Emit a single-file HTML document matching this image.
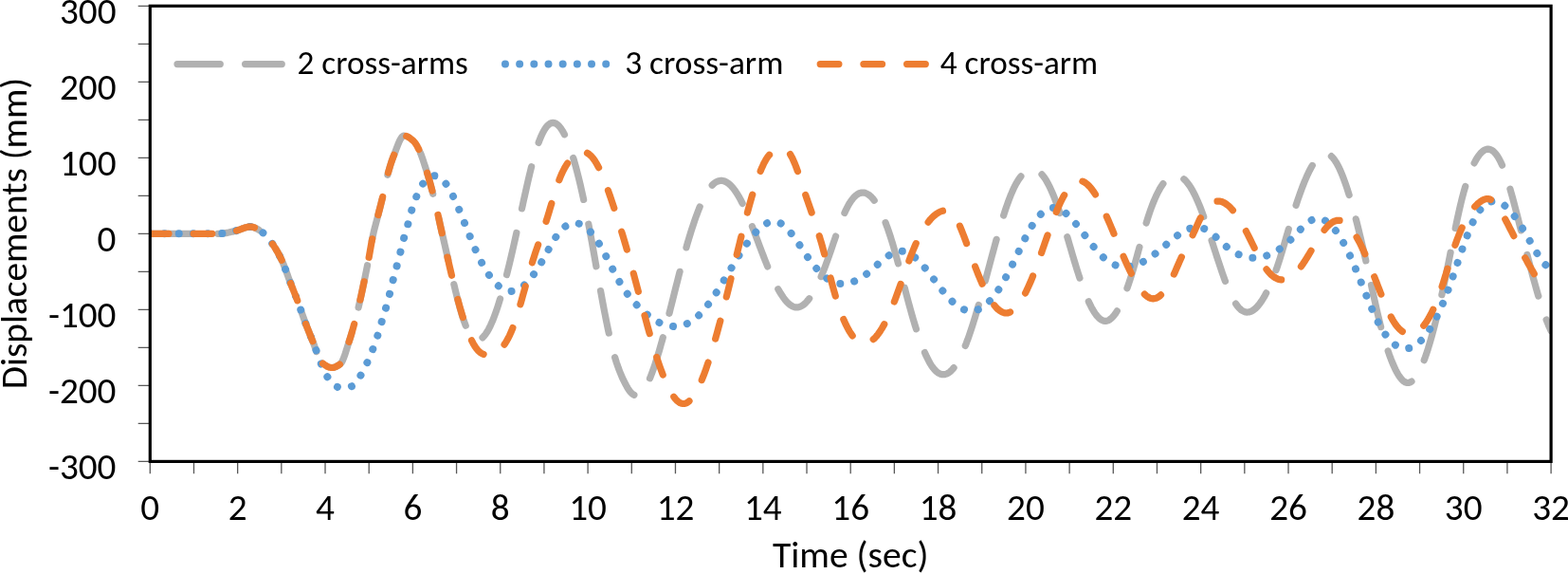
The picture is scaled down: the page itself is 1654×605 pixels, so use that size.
<!DOCTYPE html>
<html><head><meta charset="utf-8"><title>Displacements chart</title>
<style>
html,body{margin:0;padding:0;background:#fff;}
svg{display:block;}
text{font-family:Carlito, 'Liberation Sans', sans-serif;fill:#000;}
</style></head><body>
<svg width="1654" height="605" viewBox="0 0 1654 605">
<rect width="1654" height="605" fill="#fff"/>
<path d="M145.7 6.30H157 M145.7 46.31H157 M145.7 86.32H157 M145.7 126.32H157 M145.7 166.33H157 M145.7 206.34H157 M145.7 246.35H157 M145.7 286.36H157 M145.7 326.37H157 M145.7 366.38H157 M145.7 406.38H157 M145.7 446.39H157 M145.7 486.40H157 M158.30 488V499.3 M204.48 488V499.3 M250.66 488V499.3 M296.84 488V499.3 M343.02 488V499.3 M389.21 488V499.3 M435.39 488V499.3 M481.57 488V499.3 M527.75 488V499.3 M573.93 488V499.3 M620.11 488V499.3 M666.29 488V499.3 M712.47 488V499.3 M758.66 488V499.3 M804.84 488V499.3 M851.02 488V499.3 M897.20 488V499.3 M943.38 488V499.3 M989.56 488V499.3 M1035.74 488V499.3 M1081.92 488V499.3 M1128.11 488V499.3 M1174.29 488V499.3 M1220.47 488V499.3 M1266.65 488V499.3 M1312.83 488V499.3 M1359.01 488V499.3 M1405.19 488V499.3 M1451.38 488V499.3 M1497.56 488V499.3 M1543.74 488V499.3 M1589.92 488V499.3 M1636.10 488V499.3" stroke="#595959" stroke-width="1.3" fill="none"/>
<g font-size="39.2">
<text x="122.5" y="25.0" text-anchor="end" textLength="59.59" lengthAdjust="spacingAndGlyphs">300</text><text x="122.5" y="105.0" text-anchor="end" textLength="59.59" lengthAdjust="spacingAndGlyphs">200</text><text x="122.5" y="185.0" text-anchor="end" textLength="59.59" lengthAdjust="spacingAndGlyphs">100</text><text x="122.5" y="265.0" text-anchor="end" textLength="19.88" lengthAdjust="spacingAndGlyphs">0</text><text x="122.5" y="345.1" text-anchor="end" textLength="71.59" lengthAdjust="spacingAndGlyphs">-100</text><text x="122.5" y="425.1" text-anchor="end" textLength="71.59" lengthAdjust="spacingAndGlyphs">-200</text><text x="122.5" y="505.1" text-anchor="end" textLength="71.59" lengthAdjust="spacingAndGlyphs">-300</text>
<text x="158.3" y="547.8" text-anchor="middle" textLength="19.88" lengthAdjust="spacingAndGlyphs">0</text><text x="250.7" y="547.8" text-anchor="middle" textLength="19.88" lengthAdjust="spacingAndGlyphs">2</text><text x="343.0" y="547.8" text-anchor="middle" textLength="19.88" lengthAdjust="spacingAndGlyphs">4</text><text x="435.4" y="547.8" text-anchor="middle" textLength="19.88" lengthAdjust="spacingAndGlyphs">6</text><text x="527.8" y="547.8" text-anchor="middle" textLength="19.88" lengthAdjust="spacingAndGlyphs">8</text><text x="620.1" y="547.8" text-anchor="middle" textLength="39.73" lengthAdjust="spacingAndGlyphs">10</text><text x="712.5" y="547.8" text-anchor="middle" textLength="39.73" lengthAdjust="spacingAndGlyphs">12</text><text x="804.8" y="547.8" text-anchor="middle" textLength="39.73" lengthAdjust="spacingAndGlyphs">14</text><text x="897.2" y="547.8" text-anchor="middle" textLength="39.73" lengthAdjust="spacingAndGlyphs">16</text><text x="989.6" y="547.8" text-anchor="middle" textLength="39.73" lengthAdjust="spacingAndGlyphs">18</text><text x="1081.9" y="547.8" text-anchor="middle" textLength="39.73" lengthAdjust="spacingAndGlyphs">20</text><text x="1174.3" y="547.8" text-anchor="middle" textLength="39.73" lengthAdjust="spacingAndGlyphs">22</text><text x="1266.6" y="547.8" text-anchor="middle" textLength="39.73" lengthAdjust="spacingAndGlyphs">24</text><text x="1359.0" y="547.8" text-anchor="middle" textLength="39.73" lengthAdjust="spacingAndGlyphs">26</text><text x="1451.4" y="547.8" text-anchor="middle" textLength="39.73" lengthAdjust="spacingAndGlyphs">28</text><text x="1543.7" y="547.8" text-anchor="middle" textLength="39.73" lengthAdjust="spacingAndGlyphs">30</text><text x="1636.1" y="547.8" text-anchor="middle" textLength="39.73" lengthAdjust="spacingAndGlyphs">32</text>
<text x="897.2" y="598.4" text-anchor="middle" textLength="164.6" lengthAdjust="spacingAndGlyphs">Time (sec)</text>
<text transform="translate(28.0 246) rotate(-90)" text-anchor="middle" textLength="328.6" lengthAdjust="spacingAndGlyphs">Displacements (mm)</text>
</g>
<defs><clipPath id="pc"><rect x="158.3" y="0" width="1477.8" height="605"/></clipPath></defs>
<g fill="none" stroke-linecap="round" stroke-linejoin="round">
<g clip-path="url(#pc)">
<path d="M158.3 246.3 L159.3 246.3 L160.3 246.3 L161.3 246.3 L162.3 246.3 L163.3 246.3 L164.3 246.3 L165.3 246.3 L166.3 246.3 L167.3 246.3 L168.3 246.3 L169.3 246.3 L170.3 246.3 L171.3 246.3 L172.3 246.3 L173.3 246.3 L174.3 246.3 L175.3 246.3 L176.3 246.3 L177.3 246.3 L178.3 246.3 L179.3 246.3 L180.3 246.3 L181.3 246.3 L182.3 246.3 L183.3 246.3 L184.3 246.3 L185.3 246.3 L186.3 246.3 L187.3 246.3 L188.3 246.3 L189.3 246.3 L190.3 246.3 L191.3 246.3 L192.3 246.3 L193.3 246.3 L194.3 246.3 L195.3 246.3 L196.3 246.3 L197.3 246.3 L198.3 246.3 L199.3 246.3 L200.3 246.3 L201.3 246.3 L202.3 246.3 L203.3 246.3 L204.3 246.3 L205.3 246.3 L206.3 246.3 L207.3 246.3 L208.3 246.3 L209.3 246.3 L210.3 246.3 L211.3 246.3 L212.3 246.3 L213.3 246.3 L214.3 246.3 L215.3 246.3 L216.3 246.3 L217.3 246.3 L218.3 246.3 L219.3 246.3 L220.3 246.3 L221.3 246.3 L222.3 246.3 L223.3 246.3 L224.3 246.3 L225.3 246.3 L226.3 246.3 L227.3 246.3 L228.3 246.3 L229.3 246.3 L230.3 246.3 L231.3 246.3 L232.3 246.3 L233.3 246.2 L234.3 246.1 L235.3 246.0 L236.3 245.9 L237.3 245.7 L238.3 245.6 L239.3 245.4 L240.3 245.2 L241.3 245.0 L242.3 244.8 L243.3 244.5 L244.3 244.3 L245.3 244.1 L246.3 243.9 L247.3 243.6 L248.3 243.4 L249.3 243.2 L250.3 242.9 L251.3 242.6 L252.3 242.2 L253.3 241.9 L254.3 241.5 L255.3 241.1 L256.3 240.7 L257.3 240.4 L258.3 240.0 L259.3 239.7 L260.3 239.5 L261.3 239.3 L262.3 239.1 L263.3 239.0 L264.3 239.0 L265.3 239.1 L266.3 239.3 L267.3 239.5 L268.3 239.9 L269.3 240.3 L270.3 240.8 L271.3 241.3 L272.3 241.9 L273.3 242.5 L274.3 243.2 L275.3 243.9 L276.3 244.6 L277.3 245.3 L278.3 246.1 L279.3 246.9 L280.3 247.8 L281.3 248.8 L282.3 250.0 L283.3 251.2 L284.3 252.6 L285.3 254.0 L286.3 255.4 L287.3 256.9 L288.3 258.3 L289.3 259.9 L290.3 261.4 L291.3 263.1 L292.3 264.8 L293.3 266.6 L294.3 268.5 L295.3 270.4 L296.3 272.4 L297.3 274.5 L298.3 276.7 L299.3 279.1 L300.3 281.7 L301.3 284.4 L302.3 287.1 L303.3 289.8 L304.3 292.6 L305.3 295.3 L306.3 297.9 L307.3 300.5 L308.3 303.0 L309.3 305.5 L310.3 308.0 L311.3 310.5 L312.3 313.0 L313.3 315.6 L314.3 318.3 L315.3 321.0 L316.3 323.8 L317.3 326.7 L318.3 329.6 L319.3 332.4 L320.3 335.2 L321.3 338.0 L322.3 340.7 L323.3 343.4 L324.3 345.9 L325.3 348.4 L326.3 350.9 L327.3 353.4 L328.3 355.8 L329.3 358.3 L330.3 360.8 L331.3 363.4 L332.3 366.3 L333.3 369.2 L334.3 372.1 L335.3 374.9 L336.3 377.3 L337.3 379.4 L338.3 381.0 L339.3 382.1 L340.3 382.9 L341.3 383.7 L342.3 384.4 L343.3 385.1 L344.3 385.7 L345.3 386.3 L346.3 386.7 L347.3 387.1 L348.3 387.3 L349.3 387.5 L350.3 387.5 L351.3 387.4 L352.3 387.2 L353.3 386.9 L354.3 386.5 L355.3 386.0 L356.3 385.4 L357.3 384.8 L358.3 384.1 L359.3 383.3 L360.3 382.1 L361.3 380.2 L362.3 377.9 L363.3 375.3 L364.3 372.3 L365.3 369.2 L366.3 366.0 L367.3 362.8 L368.3 359.7 L369.3 356.6 L370.3 353.4 L371.3 350.0 L372.3 346.5 L373.3 342.8 L374.3 339.1 L375.3 335.2 L376.3 331.3 L377.3 327.3 L378.3 323.2 L379.3 318.9 L380.3 314.5 L381.3 310.0 L382.3 305.3 L383.3 300.6 L384.3 295.8 L385.3 290.9 L386.3 285.9 L387.3 280.9 L388.3 275.9 L389.3 270.6 L390.3 264.9 L391.3 259.2 L392.3 253.7 L393.3 248.7 L394.3 244.2 L395.3 240.2 L396.3 236.4 L397.3 232.6 L398.3 228.9 L399.3 224.9 L400.3 221.0 L401.3 217.1 L402.3 213.2 L403.3 209.1 L404.3 204.8 L405.3 200.1 L406.3 195.4 L407.3 190.7 L408.3 186.5 L409.3 182.7 L410.3 179.1 L411.3 175.7 L412.3 172.5 L413.3 169.5 L414.3 166.7 L415.3 164.2 L416.3 161.6 L417.3 158.9 L418.3 156.3 L419.3 153.7 L420.3 151.2 L421.3 148.9 L422.3 146.9 L423.3 145.3 L424.3 144.0 L425.3 143.2 L426.3 143.0 L427.3 143.1 L428.3 143.3 L429.3 143.7 L430.3 144.2 L431.3 144.8 L432.3 145.5 L433.3 146.3 L434.3 147.1 L435.3 147.9 L436.3 148.8 L437.3 149.9 L438.3 151.2 L439.3 152.8 L440.3 154.6 L441.3 156.5 L442.3 158.5 L443.3 160.7 L444.3 163.2 L445.3 166.0 L446.3 168.9 L447.3 172.0 L448.3 175.0 L449.3 178.1 L450.3 181.3 L451.3 184.6 L452.3 188.0 L453.3 191.5 L454.3 195.1 L455.3 198.9 L456.3 202.7 L457.3 206.7 L458.3 210.7 L459.3 214.9 L460.3 219.1 L461.3 223.4 L462.3 227.8 L463.3 232.2 L464.3 236.7 L465.3 241.2 L466.3 245.6 L467.3 250.0 L468.3 254.4 L469.3 258.7 L470.3 263.1 L471.3 267.5 L472.3 271.9 L473.3 276.2 L474.3 280.6 L475.3 284.9 L476.3 289.1 L477.3 293.4 L478.3 297.6 L479.3 301.7 L480.3 305.8 L481.3 309.8 L482.3 313.8 L483.3 317.7 L484.3 321.4 L485.3 325.1 L486.3 328.6 L487.3 331.9 L488.3 335.1 L489.3 338.1 L490.3 340.8 L491.3 343.4 L492.3 345.7 L493.3 347.9 L494.3 349.8 L495.3 351.5 L496.3 353.0 L497.3 354.3 L498.3 355.4 L499.3 356.3 L500.3 357.1 L501.3 357.6 L502.3 358.0 L503.3 358.1 L504.3 358.1 L505.3 358.0 L506.3 357.6 L507.3 357.1 L508.3 356.4 L509.3 355.6 L510.3 354.5 L511.3 353.4 L512.3 352.1 L513.3 350.6 L514.3 349.0 L515.3 347.2 L516.3 345.3 L517.3 343.3 L518.3 341.1 L519.3 338.8 L520.3 336.3 L521.3 333.7 L522.3 331.0 L523.3 328.2 L524.3 325.3 L525.3 322.3 L526.3 319.1 L527.3 315.9 L528.3 312.5 L529.3 309.0 L530.3 305.5 L531.3 301.8 L532.3 298.1 L533.3 294.3 L534.3 290.4 L535.3 286.4 L536.3 282.4 L537.3 278.3 L538.3 274.1 L539.3 269.9 L540.3 265.6 L541.3 261.2 L542.3 256.8 L543.3 252.4 L544.3 247.9 L545.3 243.4 L546.3 238.9 L547.3 234.4 L548.3 229.8 L549.3 225.3 L550.3 220.7 L551.3 216.2 L552.3 211.6 L553.3 207.1 L554.3 202.6 L555.3 198.1 L556.3 193.7 L557.3 189.4 L558.3 185.1 L559.3 181.0 L560.3 176.9 L561.3 173.0 L562.3 169.3 L563.3 165.7 L564.3 162.2 L565.3 158.9 L566.3 155.8 L567.3 152.8 L568.3 149.9 L569.3 147.3 L570.3 144.8 L571.3 142.5 L572.3 140.4 L573.3 138.5 L574.3 136.7 L575.3 135.2 L576.3 133.8 L577.3 132.6 L578.3 131.7 L579.3 130.9 L580.3 130.2 L581.3 129.8 L582.3 129.5 L583.3 129.4 L584.3 129.5 L585.3 129.8 L586.3 130.2 L587.3 130.8 L588.3 131.6 L589.3 132.5 L590.3 133.6 L591.3 134.9 L592.3 136.3 L593.3 137.9 L594.3 139.6 L595.3 141.5 L596.3 143.5 L597.3 145.7 L598.3 148.1 L599.3 150.5 L600.3 153.2 L601.3 155.9 L602.3 158.9 L603.3 161.9 L604.3 165.1 L605.3 168.4 L606.3 171.9 L607.3 175.5 L608.3 179.2 L609.3 183.1 L610.3 187.1 L611.3 191.2 L612.3 195.4 L613.3 199.7 L614.3 204.2 L615.3 208.8 L616.3 213.5 L617.3 218.3 L618.3 223.3 L619.3 228.3 L620.3 233.5 L621.3 238.7 L622.3 244.0 L623.3 249.5 L624.3 254.9 L625.3 260.5 L626.3 266.0 L627.3 271.7 L628.3 277.3 L629.3 282.9 L630.3 288.5 L631.3 294.1 L632.3 299.7 L633.3 305.3 L634.3 310.7 L635.3 316.2 L636.3 321.5 L637.3 326.8 L638.3 331.9 L639.3 337.0 L640.3 341.9 L641.3 346.7 L642.3 351.4 L643.3 355.9 L644.3 360.2 L645.3 364.3 L646.3 368.3 L647.3 372.0 L648.3 375.6 L649.3 378.9 L650.3 382.1 L651.3 385.0 L652.3 387.9 L653.3 390.5 L654.3 393.0 L655.3 395.4 L656.3 397.7 L657.3 399.9 L658.3 401.9 L659.3 403.9 L660.3 405.8 L661.3 407.6 L662.3 409.3 L663.3 410.9 L664.3 412.3 L665.3 413.5 L666.3 414.5 L667.3 415.4 L668.3 416.0 L669.3 416.5 L670.3 416.7 L671.3 416.8 L672.3 416.6 L673.3 416.3 L674.3 415.8 L675.3 415.1 L676.3 414.3 L677.3 413.3 L678.3 412.1 L679.3 410.7 L680.3 409.2 L681.3 407.5 L682.3 405.6 L683.3 403.7 L684.3 401.5 L685.3 399.2 L686.3 396.8 L687.3 394.2 L688.3 391.5 L689.3 388.7 L690.3 385.8 L691.3 382.8 L692.3 379.7 L693.3 376.5 L694.3 373.3 L695.3 369.9 L696.3 366.5 L697.3 362.9 L698.3 359.4 L699.3 355.7 L700.3 352.0 L701.3 348.3 L702.3 344.5 L703.3 340.7 L704.3 336.8 L705.3 332.9 L706.3 329.0 L707.3 325.0 L708.3 321.1 L709.3 317.1 L710.3 313.1 L711.3 309.2 L712.3 305.2 L713.3 301.2 L714.3 297.3 L715.3 293.3 L716.3 289.4 L717.3 285.5 L718.3 281.7 L719.3 277.9 L720.3 274.1 L721.3 270.4 L722.3 266.7 L723.3 263.1 L724.3 259.6 L725.3 256.1 L726.3 252.7 L727.3 249.4 L728.3 246.1 L729.3 242.9 L730.3 239.8 L731.3 236.8 L732.3 233.8 L733.3 230.9 L734.3 228.1 L735.3 225.4 L736.3 222.8 L737.3 220.2 L738.3 217.8 L739.3 215.4 L740.3 213.2 L741.3 211.0 L742.3 208.9 L743.3 207.0 L744.3 205.1 L745.3 203.4 L746.3 201.7 L747.3 200.2 L748.3 198.7 L749.3 197.4 L750.3 196.2 L751.3 195.1 L752.3 194.1 L753.3 193.3 L754.3 192.5 L755.3 191.9 L756.3 191.4 L757.3 191.0 L758.3 190.7 L759.3 190.5 L760.3 190.4 L761.3 190.4 L762.3 190.5 L763.3 190.7 L764.3 191.0 L765.3 191.5 L766.3 192.0 L767.3 192.6 L768.3 193.3 L769.3 194.1 L770.3 195.0 L771.3 196.0 L772.3 197.1 L773.3 198.3 L774.3 199.5 L775.3 200.9 L776.3 202.3 L777.3 203.9 L778.3 205.5 L779.3 207.2 L780.3 208.9 L781.3 210.8 L782.3 212.7 L783.3 214.7 L784.3 216.8 L785.3 219.0 L786.3 221.2 L787.3 223.5 L788.3 225.8 L789.3 228.2 L790.3 230.7 L791.3 233.2 L792.3 235.7 L793.3 238.3 L794.3 240.9 L795.3 243.5 L796.3 246.1 L797.3 248.7 L798.3 251.4 L799.3 254.1 L800.3 256.7 L801.3 259.4 L802.3 262.0 L803.3 264.7 L804.3 267.3 L805.3 269.9 L806.3 272.5 L807.3 275.0 L808.3 277.5 L809.3 280.0 L810.3 282.4 L811.3 284.8 L812.3 287.1 L813.3 289.4 L814.3 291.6 L815.3 293.8 L816.3 295.9 L817.3 298.0 L818.3 300.0 L819.3 301.9 L820.3 303.8 L821.3 305.6 L822.3 307.3 L823.3 309.0 L824.3 310.6 L825.3 312.1 L826.3 313.6 L827.3 314.9 L828.3 316.2 L829.3 317.4 L830.3 318.5 L831.3 319.5 L832.3 320.4 L833.3 321.2 L834.3 321.9 L835.3 322.5 L836.3 323.0 L837.3 323.4 L838.3 323.7 L839.3 323.9 L840.3 323.9 L841.3 323.9 L842.3 323.7 L843.3 323.5 L844.3 323.1 L845.3 322.6 L846.3 322.0 L847.3 321.4 L848.3 320.6 L849.3 319.7 L850.3 318.7 L851.3 317.6 L852.3 316.4 L853.3 315.2 L854.3 313.8 L855.3 312.4 L856.3 310.9 L857.3 309.2 L858.3 307.5 L859.3 305.7 L860.3 303.9 L861.3 301.9 L862.3 299.9 L863.3 297.8 L864.3 295.7 L865.3 293.4 L866.3 291.1 L867.3 288.7 L868.3 286.3 L869.3 283.8 L870.3 281.2 L871.3 278.5 L872.3 275.8 L873.3 273.1 L874.3 270.3 L875.3 267.4 L876.3 264.5 L877.3 261.6 L878.3 258.7 L879.3 255.7 L880.3 252.8 L881.3 249.9 L882.3 247.0 L883.3 244.1 L884.3 241.3 L885.3 238.5 L886.3 235.8 L887.3 233.1 L888.3 230.6 L889.3 228.1 L890.3 225.7 L891.3 223.5 L892.3 221.3 L893.3 219.3 L894.3 217.4 L895.3 215.6 L896.3 213.9 L897.3 212.4 L898.3 211.0 L899.3 209.7 L900.3 208.5 L901.3 207.4 L902.3 206.5 L903.3 205.6 L904.3 204.9 L905.3 204.3 L906.3 203.8 L907.3 203.5 L908.3 203.2 L909.3 203.1 L910.3 203.0 L911.3 203.1 L912.3 203.3 L913.3 203.6 L914.3 204.1 L915.3 204.6 L916.3 205.3 L917.3 206.0 L918.3 206.9 L919.3 207.8 L920.3 208.9 L921.3 210.1 L922.3 211.4 L923.3 212.8 L924.3 214.3 L925.3 216.0 L926.3 217.7 L927.3 219.5 L928.3 221.5 L929.3 223.5 L930.3 225.6 L931.3 227.9 L932.3 230.2 L933.3 232.7 L934.3 235.2 L935.3 237.9 L936.3 240.6 L937.3 243.5 L938.3 246.5 L939.3 249.5 L940.3 252.7 L941.3 255.9 L942.3 259.3 L943.3 262.7 L944.3 266.2 L945.3 269.7 L946.3 273.4 L947.3 277.0 L948.3 280.8 L949.3 284.5 L950.3 288.3 L951.3 292.1 L952.3 295.9 L953.3 299.7 L954.3 303.5 L955.3 307.3 L956.3 311.1 L957.3 314.9 L958.3 318.6 L959.3 322.3 L960.3 325.9 L961.3 329.5 L962.3 333.0 L963.3 336.4 L964.3 339.8 L965.3 343.1 L966.3 346.3 L967.3 349.4 L968.3 352.4 L969.3 355.4 L970.3 358.3 L971.3 361.0 L972.3 363.7 L973.3 366.3 L974.3 368.8 L975.3 371.2 L976.3 373.5 L977.3 375.7 L978.3 377.7 L979.3 379.7 L980.3 381.6 L981.3 383.3 L982.3 384.9 L983.3 386.4 L984.3 387.8 L985.3 389.0 L986.3 390.1 L987.3 391.1 L988.3 392.0 L989.3 392.8 L990.3 393.4 L991.3 393.9 L992.3 394.3 L993.3 394.6 L994.3 394.7 L995.3 394.7 L996.3 394.7 L997.3 394.4 L998.3 394.1 L999.3 393.7 L1000.3 393.1 L1001.3 392.5 L1002.3 391.7 L1003.3 390.8 L1004.3 389.8 L1005.3 388.6 L1006.3 387.4 L1007.3 386.1 L1008.3 384.6 L1009.3 383.0 L1010.3 381.4 L1011.3 379.6 L1012.3 377.7 L1013.3 375.7 L1014.3 373.6 L1015.3 371.4 L1016.3 369.2 L1017.3 366.8 L1018.3 364.3 L1019.3 361.8 L1020.3 359.1 L1021.3 356.4 L1022.3 353.6 L1023.3 350.7 L1024.3 347.7 L1025.3 344.7 L1026.3 341.5 L1027.3 338.3 L1028.3 335.1 L1029.3 331.7 L1030.3 328.4 L1031.3 324.9 L1032.3 321.4 L1033.3 317.9 L1034.3 314.3 L1035.3 310.7 L1036.3 307.1 L1037.3 303.4 L1038.3 299.7 L1039.3 296.0 L1040.3 292.3 L1041.3 288.6 L1042.3 284.8 L1043.3 281.1 L1044.3 277.4 L1045.3 273.6 L1046.3 269.9 L1047.3 266.2 L1048.3 262.6 L1049.3 258.9 L1050.3 255.3 L1051.3 251.7 L1052.3 248.2 L1053.3 244.7 L1054.3 241.3 L1055.3 237.9 L1056.3 234.6 L1057.3 231.3 L1058.3 228.1 L1059.3 225.0 L1060.3 221.9 L1061.3 218.9 L1062.3 216.1 L1063.3 213.3 L1064.3 210.6 L1065.3 208.0 L1066.3 205.4 L1067.3 203.1 L1068.3 200.8 L1069.3 198.6 L1070.3 196.5 L1071.3 194.6 L1072.3 192.8 L1073.3 191.1 L1074.3 189.5 L1075.3 188.0 L1076.3 186.7 L1077.3 185.4 L1078.3 184.3 L1079.3 183.2 L1080.3 182.3 L1081.3 181.5 L1082.3 180.8 L1083.3 180.1 L1084.3 179.6 L1085.3 179.2 L1086.3 178.9 L1087.3 178.7 L1088.3 178.6 L1089.3 178.6 L1090.3 178.6 L1091.3 178.8 L1092.3 179.1 L1093.3 179.5 L1094.3 180.0 L1095.3 180.6 L1096.3 181.3 L1097.3 182.2 L1098.3 183.1 L1099.3 184.2 L1100.3 185.4 L1101.3 186.7 L1102.3 188.1 L1103.3 189.7 L1104.3 191.4 L1105.3 193.2 L1106.3 195.1 L1107.3 197.1 L1108.3 199.2 L1109.3 201.4 L1110.3 203.7 L1111.3 206.1 L1112.3 208.6 L1113.3 211.2 L1114.3 213.9 L1115.3 216.7 L1116.3 219.5 L1117.3 222.4 L1118.3 225.4 L1119.3 228.5 L1120.3 231.7 L1121.3 234.9 L1122.3 238.1 L1123.3 241.4 L1124.3 244.7 L1125.3 248.1 L1126.3 251.4 L1127.3 254.8 L1128.3 258.2 L1129.3 261.6 L1130.3 265.0 L1131.3 268.4 L1132.3 271.8 L1133.3 275.1 L1134.3 278.4 L1135.3 281.7 L1136.3 284.9 L1137.3 288.0 L1138.3 291.1 L1139.3 294.2 L1140.3 297.1 L1141.3 300.0 L1142.3 302.8 L1143.3 305.5 L1144.3 308.2 L1145.3 310.7 L1146.3 313.1 L1147.3 315.5 L1148.3 317.7 L1149.3 319.9 L1150.3 321.9 L1151.3 323.9 L1152.3 325.7 L1153.3 327.4 L1154.3 329.0 L1155.3 330.5 L1156.3 331.9 L1157.3 333.1 L1158.3 334.2 L1159.3 335.2 L1160.3 336.1 L1161.3 336.8 L1162.3 337.4 L1163.3 337.9 L1164.3 338.2 L1165.3 338.3 L1166.3 338.4 L1167.3 338.2 L1168.3 338.0 L1169.3 337.6 L1170.3 337.0 L1171.3 336.3 L1172.3 335.5 L1173.3 334.5 L1174.3 333.4 L1175.3 332.2 L1176.3 330.9 L1177.3 329.4 L1178.3 327.8 L1179.3 326.1 L1180.3 324.2 L1181.3 322.3 L1182.3 320.2 L1183.3 318.0 L1184.3 315.8 L1185.3 313.4 L1186.3 310.9 L1187.3 308.3 L1188.3 305.6 L1189.3 302.8 L1190.3 299.9 L1191.3 296.9 L1192.3 293.9 L1193.3 290.7 L1194.3 287.5 L1195.3 284.2 L1196.3 280.8 L1197.3 277.3 L1198.3 273.8 L1199.3 270.2 L1200.3 266.5 L1201.3 262.9 L1202.3 259.2 L1203.3 255.6 L1204.3 251.9 L1205.3 248.3 L1206.3 244.7 L1207.3 241.2 L1208.3 237.8 L1209.3 234.5 L1210.3 231.2 L1211.3 228.1 L1212.3 225.1 L1213.3 222.2 L1214.3 219.4 L1215.3 216.7 L1216.3 214.2 L1217.3 211.7 L1218.3 209.4 L1219.3 207.1 L1220.3 205.0 L1221.3 203.0 L1222.3 201.1 L1223.3 199.2 L1224.3 197.5 L1225.3 196.0 L1226.3 194.5 L1227.3 193.1 L1228.3 191.8 L1229.3 190.7 L1230.3 189.6 L1231.3 188.6 L1232.3 187.8 L1233.3 187.0 L1234.3 186.4 L1235.3 185.9 L1236.3 185.4 L1237.3 185.1 L1238.3 184.9 L1239.3 184.8 L1240.3 184.7 L1241.3 184.8 L1242.3 185.0 L1243.3 185.3 L1244.3 185.7 L1245.3 186.2 L1246.3 186.8 L1247.3 187.5 L1248.3 188.3 L1249.3 189.1 L1250.3 190.1 L1251.3 191.2 L1252.3 192.4 L1253.3 193.7 L1254.3 195.1 L1255.3 196.6 L1256.3 198.1 L1257.3 199.8 L1258.3 201.6 L1259.3 203.5 L1260.3 205.4 L1261.3 207.5 L1262.3 209.7 L1263.3 211.9 L1264.3 214.3 L1265.3 216.7 L1266.3 219.2 L1267.3 221.8 L1268.3 224.5 L1269.3 227.3 L1270.3 230.1 L1271.3 232.9 L1272.3 235.9 L1273.3 238.8 L1274.3 241.8 L1275.3 244.9 L1276.3 247.9 L1277.3 251.0 L1278.3 254.1 L1279.3 257.2 L1280.3 260.3 L1281.3 263.4 L1282.3 266.5 L1283.3 269.6 L1284.3 272.7 L1285.3 275.7 L1286.3 278.7 L1287.3 281.7 L1288.3 284.7 L1289.3 287.6 L1290.3 290.4 L1291.3 293.2 L1292.3 295.9 L1293.3 298.5 L1294.3 301.1 L1295.3 303.6 L1296.3 306.0 L1297.3 308.3 L1298.3 310.5 L1299.3 312.6 L1300.3 314.5 L1301.3 316.4 L1302.3 318.1 L1303.3 319.8 L1304.3 321.2 L1305.3 322.6 L1306.3 323.8 L1307.3 324.9 L1308.3 325.8 L1309.3 326.7 L1310.3 327.4 L1311.3 327.9 L1312.3 328.4 L1313.3 328.7 L1314.3 329.0 L1315.3 329.1 L1316.3 329.0 L1317.3 328.9 L1318.3 328.7 L1319.3 328.3 L1320.3 327.9 L1321.3 327.3 L1322.3 326.7 L1323.3 325.9 L1324.3 325.1 L1325.3 324.1 L1326.3 323.1 L1327.3 321.9 L1328.3 320.7 L1329.3 319.3 L1330.3 317.9 L1331.3 316.4 L1332.3 314.8 L1333.3 313.2 L1334.3 311.4 L1335.3 309.6 L1336.3 307.7 L1337.3 305.7 L1338.3 303.6 L1339.3 301.4 L1340.3 299.2 L1341.3 296.9 L1342.3 294.5 L1343.3 292.0 L1344.3 289.4 L1345.3 286.8 L1346.3 284.0 L1347.3 281.2 L1348.3 278.2 L1349.3 275.2 L1350.3 272.0 L1351.3 268.8 L1352.3 265.5 L1353.3 262.1 L1354.3 258.7 L1355.3 255.2 L1356.3 251.8 L1357.3 248.3 L1358.3 244.9 L1359.3 241.4 L1360.3 238.1 L1361.3 234.7 L1362.3 231.4 L1363.3 228.2 L1364.3 225.0 L1365.3 221.8 L1366.3 218.7 L1367.3 215.6 L1368.3 212.6 L1369.3 209.7 L1370.3 206.8 L1371.3 204.0 L1372.3 201.2 L1373.3 198.5 L1374.3 195.9 L1375.3 193.4 L1376.3 190.9 L1377.3 188.6 L1378.3 186.3 L1379.3 184.1 L1380.3 181.9 L1381.3 179.9 L1382.3 178.0 L1383.3 176.1 L1384.3 174.4 L1385.3 172.8 L1386.3 171.2 L1387.3 169.8 L1388.3 168.5 L1389.3 167.3 L1390.3 166.2 L1391.3 165.3 L1392.3 164.4 L1393.3 163.7 L1394.3 163.1 L1395.3 162.6 L1396.3 162.3 L1397.3 162.1 L1398.3 162.0 L1399.3 162.1 L1400.3 162.3 L1401.3 162.6 L1402.3 163.2 L1403.3 163.8 L1404.3 164.6 L1405.3 165.6 L1406.3 166.7 L1407.3 168.0 L1408.3 169.4 L1409.3 170.9 L1410.3 172.6 L1411.3 174.5 L1412.3 176.4 L1413.3 178.5 L1414.3 180.8 L1415.3 183.1 L1416.3 185.6 L1417.3 188.2 L1418.3 190.9 L1419.3 193.7 L1420.3 196.6 L1421.3 199.7 L1422.3 202.8 L1423.3 206.0 L1424.3 209.3 L1425.3 212.7 L1426.3 216.2 L1427.3 219.8 L1428.3 223.5 L1429.3 227.2 L1430.3 231.0 L1431.3 234.9 L1432.3 238.9 L1433.3 242.9 L1434.3 247.0 L1435.3 251.1 L1436.3 255.3 L1437.3 259.6 L1438.3 263.9 L1439.3 268.2 L1440.3 272.6 L1441.3 277.0 L1442.3 281.5 L1443.3 286.0 L1444.3 290.5 L1445.3 295.0 L1446.3 299.6 L1447.3 304.1 L1448.3 308.7 L1449.3 313.3 L1450.3 317.8 L1451.3 322.2 L1452.3 326.7 L1453.3 331.0 L1454.3 335.2 L1455.3 339.3 L1456.3 343.3 L1457.3 347.2 L1458.3 350.9 L1459.3 354.4 L1460.3 357.9 L1461.3 361.1 L1462.3 364.3 L1463.3 367.4 L1464.3 370.3 L1465.3 373.2 L1466.3 375.9 L1467.3 378.6 L1468.3 381.1 L1469.3 383.5 L1470.3 385.8 L1471.3 388.0 L1472.3 390.1 L1473.3 392.0 L1474.3 393.8 L1475.3 395.4 L1476.3 396.9 L1477.3 398.3 L1478.3 399.5 L1479.3 400.6 L1480.3 401.5 L1481.3 402.2 L1482.3 402.8 L1483.3 403.2 L1484.3 403.4 L1485.3 403.4 L1486.3 403.3 L1487.3 403.0 L1488.3 402.5 L1489.3 401.9 L1490.3 401.1 L1491.3 400.1 L1492.3 398.9 L1493.3 397.7 L1494.3 396.2 L1495.3 394.6 L1496.3 392.8 L1497.3 391.0 L1498.3 388.9 L1499.3 386.7 L1500.3 384.4 L1501.3 382.0 L1502.3 379.4 L1503.3 376.7 L1504.3 373.8 L1505.3 370.8 L1506.3 367.8 L1507.3 364.5 L1508.3 361.2 L1509.3 357.8 L1510.3 354.2 L1511.3 350.6 L1512.3 346.8 L1513.3 343.0 L1514.3 339.0 L1515.3 335.0 L1516.3 330.8 L1517.3 326.6 L1518.3 322.3 L1519.3 317.9 L1520.3 313.4 L1521.3 308.8 L1522.3 304.2 L1523.3 299.5 L1524.3 294.8 L1525.3 289.9 L1526.3 285.1 L1527.3 280.1 L1528.3 275.1 L1529.3 270.1 L1530.3 265.1 L1531.3 260.0 L1532.3 255.0 L1533.3 250.0 L1534.3 245.0 L1535.3 240.1 L1536.3 235.3 L1537.3 230.6 L1538.3 226.0 L1539.3 221.5 L1540.3 217.1 L1541.3 213.0 L1542.3 208.9 L1543.3 205.1 L1544.3 201.4 L1545.3 197.9 L1546.3 194.6 L1547.3 191.4 L1548.3 188.4 L1549.3 185.6 L1550.3 182.9 L1551.3 180.3 L1552.3 177.9 L1553.3 175.6 L1554.3 173.5 L1555.3 171.5 L1556.3 169.6 L1557.3 167.9 L1558.3 166.2 L1559.3 164.7 L1560.3 163.4 L1561.3 162.1 L1562.3 161.0 L1563.3 160.1 L1564.3 159.2 L1565.3 158.5 L1566.3 158.0 L1567.3 157.6 L1568.3 157.3 L1569.3 157.2 L1570.3 157.2 L1571.3 157.4 L1572.3 157.7 L1573.3 158.2 L1574.3 158.8 L1575.3 159.5 L1576.3 160.5 L1577.3 161.6 L1578.3 162.8 L1579.3 164.2 L1580.3 165.7 L1581.3 167.5 L1582.3 169.4 L1583.3 171.4 L1584.3 173.6 L1585.3 176.0 L1586.3 178.5 L1587.3 181.3 L1588.3 184.1 L1589.3 187.1 L1590.3 190.3 L1591.3 193.5 L1592.3 196.9 L1593.3 200.4 L1594.3 203.9 L1595.3 207.5 L1596.3 211.2 L1597.3 215.0 L1598.3 218.8 L1599.3 222.7 L1600.3 226.5 L1601.3 230.4 L1602.3 234.4 L1603.3 238.3 L1604.3 242.3 L1605.3 246.2 L1606.3 250.2 L1607.3 254.1 L1608.3 258.1 L1609.3 262.0 L1610.3 265.9 L1611.3 269.9 L1612.3 273.7 L1613.3 277.6 L1614.3 281.4 L1615.3 285.2 L1616.3 289.0 L1617.3 292.7 L1618.3 296.3 L1619.3 299.9 L1620.3 303.5 L1621.3 307.0 L1622.3 310.4 L1623.3 313.7 L1624.3 317.0 L1625.3 320.2 L1626.3 323.3 L1627.3 326.3 L1628.3 329.3 L1629.3 332.1 L1630.3 334.9 L1631.3 337.5 L1632.3 340.0 L1633.3 342.5 L1634.3 344.8 L1635.3 346.9 L1636.1 348.6" stroke="#B1B1B1" stroke-width="7.2" stroke-dasharray="45.3 26.3" stroke-dashoffset="0"/>
<path d="M158.3 246.3 L159.3 246.3 L160.3 246.3 L161.3 246.3 L162.3 246.3 L163.3 246.3 L164.3 246.3 L165.3 246.3 L166.3 246.3 L167.3 246.3 L168.3 246.3 L169.3 246.3 L170.3 246.3 L171.3 246.3 L172.3 246.3 L173.3 246.3 L174.3 246.3 L175.3 246.3 L176.3 246.3 L177.3 246.3 L178.3 246.3 L179.3 246.3 L180.3 246.3 L181.3 246.3 L182.3 246.3 L183.3 246.3 L184.3 246.3 L185.3 246.3 L186.3 246.3 L187.3 246.3 L188.3 246.3 L189.3 246.3 L190.3 246.3 L191.3 246.3 L192.3 246.3 L193.3 246.3 L194.3 246.3 L195.3 246.3 L196.3 246.3 L197.3 246.3 L198.3 246.3 L199.3 246.3 L200.3 246.3 L201.3 246.3 L202.3 246.3 L203.3 246.3 L204.3 246.3 L205.3 246.3 L206.3 246.3 L207.3 246.3 L208.3 246.3 L209.3 246.3 L210.3 246.3 L211.3 246.3 L212.3 246.3 L213.3 246.3 L214.3 246.3 L215.3 246.3 L216.3 246.3 L217.3 246.3 L218.3 246.3 L219.3 246.3 L220.3 246.3 L221.3 246.3 L222.3 246.3 L223.3 246.3 L224.3 246.3 L225.3 246.3 L226.3 246.3 L227.3 246.3 L228.3 246.3 L229.3 246.3 L230.3 246.3 L231.3 246.3 L232.3 246.3 L233.3 246.2 L234.3 246.1 L235.3 246.0 L236.3 245.9 L237.3 245.7 L238.3 245.6 L239.3 245.4 L240.3 245.2 L241.3 245.0 L242.3 244.8 L243.3 244.5 L244.3 244.3 L245.3 244.1 L246.3 243.9 L247.3 243.6 L248.3 243.4 L249.3 243.2 L250.3 242.9 L251.3 242.6 L252.3 242.2 L253.3 241.9 L254.3 241.5 L255.3 241.1 L256.3 240.7 L257.3 240.4 L258.3 240.0 L259.3 239.7 L260.3 239.5 L261.3 239.3 L262.3 239.1 L263.3 239.0 L264.3 239.0 L265.3 239.1 L266.3 239.3 L267.3 239.5 L268.3 239.9 L269.3 240.3 L270.3 240.8 L271.3 241.3 L272.3 241.9 L273.3 242.5 L274.3 243.2 L275.3 243.9 L276.3 244.6 L277.3 245.3 L278.3 246.1 L279.3 246.9 L280.3 247.8 L281.3 248.8 L282.3 250.0 L283.3 251.2 L284.3 252.6 L285.3 254.0 L286.3 255.4 L287.3 256.9 L288.3 258.3 L289.3 259.9 L290.3 261.4 L291.3 263.1 L292.3 264.8 L293.3 266.6 L294.3 268.5 L295.3 270.4 L296.3 272.4 L297.3 274.5 L298.3 276.7 L299.3 279.1 L300.3 281.7 L301.3 284.4 L302.3 287.1 L303.3 289.8 L304.3 292.6 L305.3 295.3 L306.3 297.9 L307.3 300.5 L308.3 303.0 L309.3 305.5 L310.3 308.0 L311.3 310.5 L312.3 313.0 L313.3 315.6 L314.3 318.3 L315.3 321.0 L316.3 323.8 L317.3 326.7 L318.3 329.6 L319.3 332.4 L320.3 335.2 L321.3 338.0 L322.3 340.7 L323.3 343.4 L324.3 345.9 L325.3 348.5 L326.3 350.9 L327.3 353.4 L328.3 355.8 L329.3 358.3 L330.3 360.7 L331.3 363.3 L332.3 365.9 L333.3 368.6 L334.3 371.4 L335.3 374.1 L336.3 376.9 L337.3 379.6 L338.3 382.2 L339.3 384.8 L340.3 387.3 L341.3 389.6 L342.3 391.8 L343.3 393.8 L344.3 395.5 L345.3 397.1 L346.3 398.4 L347.3 399.8 L348.3 401.1 L349.3 402.4 L350.3 403.6 L351.3 404.7 L352.3 405.7 L353.3 406.5 L354.3 407.2 L355.3 407.7 L356.3 408.0 L357.3 408.1 L358.3 408.2 L359.3 408.3 L360.3 408.4 L361.3 408.4 L362.3 408.5 L363.3 408.5 L364.3 408.5 L365.3 408.4 L366.3 408.3 L367.3 408.1 L368.3 407.9 L369.3 407.7 L370.3 407.4 L371.3 407.1 L372.3 406.5 L373.3 405.6 L374.3 404.6 L375.3 403.3 L376.3 402.0 L377.3 400.5 L378.3 399.0 L379.3 397.4 L380.3 395.9 L381.3 394.3 L382.3 392.6 L383.3 390.7 L384.3 388.7 L385.3 386.6 L386.3 384.4 L387.3 382.2 L388.3 380.0 L389.3 377.8 L390.3 375.5 L391.3 373.0 L392.3 370.6 L393.3 368.0 L394.3 365.4 L395.3 362.6 L396.3 359.8 L397.3 356.8 L398.3 353.8 L399.3 350.6 L400.3 347.2 L401.3 343.7 L402.3 340.3 L403.3 336.9 L404.3 333.7 L405.3 330.4 L406.3 327.1 L407.3 323.7 L408.3 320.1 L409.3 316.4 L410.3 312.6 L411.3 308.7 L412.3 304.7 L413.3 300.5 L414.3 296.5 L415.3 292.6 L416.3 288.9 L417.3 285.2 L418.3 281.5 L419.3 277.7 L420.3 273.9 L421.3 270.0 L422.3 266.1 L423.3 262.1 L424.3 258.0 L425.3 254.0 L426.3 250.1 L427.3 246.6 L428.3 243.2 L429.3 239.9 L430.3 236.5 L431.3 232.7 L432.3 228.8 L433.3 225.0 L434.3 221.4 L435.3 218.2 L436.3 215.2 L437.3 212.3 L438.3 209.6 L439.3 207.1 L440.3 204.8 L441.3 202.5 L442.3 200.3 L443.3 198.2 L444.3 196.3 L445.3 194.7 L446.3 193.4 L447.3 192.3 L448.3 191.3 L449.3 190.3 L450.3 189.3 L451.3 188.4 L452.3 187.6 L453.3 186.9 L454.3 186.3 L455.3 185.9 L456.3 185.5 L457.3 185.3 L458.3 185.3 L459.3 185.4 L460.3 185.6 L461.3 186.0 L462.3 186.5 L463.3 187.0 L464.3 187.7 L465.3 188.5 L466.3 189.3 L467.3 190.2 L468.3 191.2 L469.3 192.3 L470.3 193.6 L471.3 195.0 L472.3 196.5 L473.3 198.1 L474.3 199.8 L475.3 201.6 L476.3 203.5 L477.3 205.5 L478.3 207.5 L479.3 209.6 L480.3 211.8 L481.3 214.0 L482.3 216.2 L483.3 218.6 L484.3 220.9 L485.3 223.3 L486.3 225.7 L487.3 228.2 L488.3 230.7 L489.3 233.2 L490.3 235.7 L491.3 238.2 L492.3 240.7 L493.3 243.2 L494.3 245.7 L495.3 248.2 L496.3 250.7 L497.3 253.1 L498.3 255.5 L499.3 257.9 L500.3 260.3 L501.3 262.6 L502.3 264.8 L503.3 267.0 L504.3 269.2 L505.3 271.3 L506.3 273.3 L507.3 275.3 L508.3 277.2 L509.3 279.0 L510.3 280.9 L511.3 282.6 L512.3 284.3 L513.3 285.9 L514.3 287.5 L515.3 289.0 L516.3 290.5 L517.3 291.9 L518.3 293.2 L519.3 294.5 L520.3 295.7 L521.3 296.9 L522.3 298.0 L523.3 299.0 L524.3 300.0 L525.3 300.9 L526.3 301.8 L527.3 302.6 L528.3 303.3 L529.3 304.0 L530.3 304.5 L531.3 305.1 L532.3 305.5 L533.3 306.0 L534.3 306.3 L535.3 306.6 L536.3 306.8 L537.3 306.9 L538.3 307.0 L539.3 307.0 L540.3 306.9 L541.3 306.8 L542.3 306.6 L543.3 306.3 L544.3 306.0 L545.3 305.6 L546.3 305.2 L547.3 304.6 L548.3 304.1 L549.3 303.4 L550.3 302.7 L551.3 302.0 L552.3 301.2 L553.3 300.3 L554.3 299.4 L555.3 298.4 L556.3 297.4 L557.3 296.3 L558.3 295.1 L559.3 294.0 L560.3 292.7 L561.3 291.5 L562.3 290.1 L563.3 288.7 L564.3 287.3 L565.3 285.9 L566.3 284.4 L567.3 282.8 L568.3 281.2 L569.3 279.6 L570.3 277.9 L571.3 276.2 L572.3 274.5 L573.3 272.7 L574.3 270.9 L575.3 269.1 L576.3 267.2 L577.3 265.4 L578.3 263.6 L579.3 261.7 L580.3 259.9 L581.3 258.2 L582.3 256.4 L583.3 254.7 L584.3 253.0 L585.3 251.4 L586.3 249.9 L587.3 248.4 L588.3 247.0 L589.3 245.7 L590.3 244.4 L591.3 243.3 L592.3 242.2 L593.3 241.2 L594.3 240.3 L595.3 239.4 L596.3 238.6 L597.3 238.0 L598.3 237.3 L599.3 236.8 L600.3 236.3 L601.3 235.9 L602.3 235.6 L603.3 235.4 L604.3 235.2 L605.3 235.1 L606.3 235.0 L607.3 235.1 L608.3 235.2 L609.3 235.4 L610.3 235.6 L611.3 235.9 L612.3 236.3 L613.3 236.8 L614.3 237.3 L615.3 237.9 L616.3 238.5 L617.3 239.2 L618.3 240.0 L619.3 240.9 L620.3 241.8 L621.3 242.7 L622.3 243.8 L623.3 244.9 L624.3 246.0 L625.3 247.2 L626.3 248.5 L627.3 249.9 L628.3 251.2 L629.3 252.7 L630.3 254.2 L631.3 255.8 L632.3 257.4 L633.3 259.1 L634.3 260.8 L635.3 262.6 L636.3 264.4 L637.3 266.3 L638.3 268.2 L639.3 270.1 L640.3 272.0 L641.3 273.9 L642.3 275.9 L643.3 277.9 L644.3 279.8 L645.3 281.8 L646.3 283.8 L647.3 285.7 L648.3 287.6 L649.3 289.5 L650.3 291.4 L651.3 293.2 L652.3 295.0 L653.3 296.8 L654.3 298.5 L655.3 300.2 L656.3 301.8 L657.3 303.4 L658.3 304.9 L659.3 306.3 L660.3 307.8 L661.3 309.1 L662.3 310.5 L663.3 311.8 L664.3 313.0 L665.3 314.3 L666.3 315.5 L667.3 316.6 L668.3 317.8 L669.3 318.9 L670.3 320.0 L671.3 321.0 L672.3 322.1 L673.3 323.1 L674.3 324.1 L675.3 325.1 L676.3 326.0 L677.3 326.9 L678.3 327.9 L679.3 328.8 L680.3 329.6 L681.3 330.5 L682.3 331.3 L683.3 332.1 L684.3 332.9 L685.3 333.7 L686.3 334.4 L687.3 335.1 L688.3 335.8 L689.3 336.5 L690.3 337.1 L691.3 337.7 L692.3 338.3 L693.3 338.9 L694.3 339.4 L695.3 339.9 L696.3 340.4 L697.3 340.9 L698.3 341.3 L699.3 341.7 L700.3 342.1 L701.3 342.4 L702.3 342.7 L703.3 343.0 L704.3 343.3 L705.3 343.5 L706.3 343.7 L707.3 343.8 L708.3 343.9 L709.3 344.0 L710.3 344.1 L711.3 344.1 L712.3 344.1 L713.3 344.1 L714.3 344.0 L715.3 343.9 L716.3 343.8 L717.3 343.6 L718.3 343.4 L719.3 343.1 L720.3 342.8 L721.3 342.5 L722.3 342.2 L723.3 341.8 L724.3 341.4 L725.3 340.9 L726.3 340.4 L727.3 339.8 L728.3 339.2 L729.3 338.6 L730.3 338.0 L731.3 337.3 L732.3 336.5 L733.3 335.7 L734.3 334.9 L735.3 334.0 L736.3 333.1 L737.3 332.2 L738.3 331.2 L739.3 330.2 L740.3 329.1 L741.3 328.0 L742.3 326.8 L743.3 325.6 L744.3 324.4 L745.3 323.1 L746.3 321.8 L747.3 320.5 L748.3 319.1 L749.3 317.8 L750.3 316.3 L751.3 314.9 L752.3 313.4 L753.3 311.9 L754.3 310.4 L755.3 308.9 L756.3 307.4 L757.3 305.8 L758.3 304.2 L759.3 302.6 L760.3 301.0 L761.3 299.4 L762.3 297.7 L763.3 296.1 L764.3 294.4 L765.3 292.8 L766.3 291.1 L767.3 289.5 L768.3 287.8 L769.3 286.1 L770.3 284.4 L771.3 282.8 L772.3 281.1 L773.3 279.4 L774.3 277.8 L775.3 276.1 L776.3 274.5 L777.3 272.9 L778.3 271.3 L779.3 269.6 L780.3 268.1 L781.3 266.5 L782.3 264.9 L783.3 263.4 L784.3 261.9 L785.3 260.4 L786.3 258.9 L787.3 257.5 L788.3 256.0 L789.3 254.6 L790.3 253.3 L791.3 251.9 L792.3 250.6 L793.3 249.4 L794.3 248.2 L795.3 247.0 L796.3 245.8 L797.3 244.7 L798.3 243.6 L799.3 242.6 L800.3 241.6 L801.3 240.7 L802.3 239.8 L803.3 239.0 L804.3 238.2 L805.3 237.5 L806.3 236.8 L807.3 236.2 L808.3 235.6 L809.3 235.1 L810.3 234.7 L811.3 234.3 L812.3 234.0 L813.3 233.8 L814.3 233.6 L815.3 233.5 L816.3 233.5 L817.3 233.5 L818.3 233.6 L819.3 233.8 L820.3 234.1 L821.3 234.4 L822.3 234.8 L823.3 235.3 L824.3 235.9 L825.3 236.6 L826.3 237.3 L827.3 238.2 L828.3 239.1 L829.3 240.0 L830.3 241.0 L831.3 242.1 L832.3 243.2 L833.3 244.4 L834.3 245.6 L835.3 246.9 L836.3 248.2 L837.3 249.6 L838.3 250.9 L839.3 252.3 L840.3 253.8 L841.3 255.2 L842.3 256.7 L843.3 258.1 L844.3 259.6 L845.3 261.1 L846.3 262.6 L847.3 264.1 L848.3 265.6 L849.3 267.1 L850.3 268.5 L851.3 270.0 L852.3 271.4 L853.3 272.8 L854.3 274.2 L855.3 275.5 L856.3 276.8 L857.3 278.1 L858.3 279.4 L859.3 280.6 L860.3 281.8 L861.3 283.0 L862.3 284.1 L863.3 285.2 L864.3 286.3 L865.3 287.3 L866.3 288.3 L867.3 289.2 L868.3 290.2 L869.3 291.0 L870.3 291.9 L871.3 292.6 L872.3 293.4 L873.3 294.1 L874.3 294.7 L875.3 295.3 L876.3 295.8 L877.3 296.3 L878.3 296.8 L879.3 297.2 L880.3 297.6 L881.3 297.9 L882.3 298.2 L883.3 298.5 L884.3 298.7 L885.3 298.8 L886.3 299.0 L887.3 299.0 L888.3 299.1 L889.3 299.1 L890.3 299.1 L891.3 299.0 L892.3 298.9 L893.3 298.8 L894.3 298.6 L895.3 298.4 L896.3 298.1 L897.3 297.9 L898.3 297.6 L899.3 297.2 L900.3 296.8 L901.3 296.4 L902.3 296.0 L903.3 295.5 L904.3 295.0 L905.3 294.5 L906.3 294.0 L907.3 293.4 L908.3 292.8 L909.3 292.1 L910.3 291.5 L911.3 290.8 L912.3 290.1 L913.3 289.3 L914.3 288.6 L915.3 287.8 L916.3 287.0 L917.3 286.2 L918.3 285.3 L919.3 284.5 L920.3 283.6 L921.3 282.7 L922.3 281.9 L923.3 281.0 L924.3 280.1 L925.3 279.2 L926.3 278.3 L927.3 277.4 L928.3 276.6 L929.3 275.7 L930.3 274.9 L931.3 274.0 L932.3 273.2 L933.3 272.4 L934.3 271.7 L935.3 270.9 L936.3 270.2 L937.3 269.5 L938.3 268.9 L939.3 268.3 L940.3 267.7 L941.3 267.2 L942.3 266.7 L943.3 266.2 L944.3 265.8 L945.3 265.5 L946.3 265.2 L947.3 265.0 L948.3 264.8 L949.3 264.7 L950.3 264.6 L951.3 264.7 L952.3 264.7 L953.3 264.9 L954.3 265.1 L955.3 265.4 L956.3 265.8 L957.3 266.2 L958.3 266.7 L959.3 267.2 L960.3 267.8 L961.3 268.4 L962.3 269.1 L963.3 269.9 L964.3 270.7 L965.3 271.5 L966.3 272.4 L967.3 273.3 L968.3 274.3 L969.3 275.3 L970.3 276.3 L971.3 277.4 L972.3 278.5 L973.3 279.6 L974.3 280.7 L975.3 281.9 L976.3 283.1 L977.3 284.4 L978.3 285.6 L979.3 286.9 L980.3 288.1 L981.3 289.4 L982.3 290.7 L983.3 292.0 L984.3 293.4 L985.3 294.7 L986.3 296.0 L987.3 297.3 L988.3 298.6 L989.3 299.9 L990.3 301.2 L991.3 302.5 L992.3 303.8 L993.3 305.1 L994.3 306.4 L995.3 307.6 L996.3 308.8 L997.3 310.0 L998.3 311.2 L999.3 312.3 L1000.3 313.4 L1001.3 314.5 L1002.3 315.6 L1003.3 316.6 L1004.3 317.6 L1005.3 318.5 L1006.3 319.4 L1007.3 320.3 L1008.3 321.1 L1009.3 321.9 L1010.3 322.6 L1011.3 323.3 L1012.3 323.9 L1013.3 324.5 L1014.3 325.1 L1015.3 325.6 L1016.3 326.0 L1017.3 326.4 L1018.3 326.8 L1019.3 327.1 L1020.3 327.3 L1021.3 327.5 L1022.3 327.6 L1023.3 327.7 L1024.3 327.8 L1025.3 327.7 L1026.3 327.6 L1027.3 327.5 L1028.3 327.3 L1029.3 327.1 L1030.3 326.8 L1031.3 326.4 L1032.3 326.0 L1033.3 325.5 L1034.3 325.0 L1035.3 324.4 L1036.3 323.8 L1037.3 323.1 L1038.3 322.4 L1039.3 321.6 L1040.3 320.8 L1041.3 319.9 L1042.3 319.0 L1043.3 318.0 L1044.3 316.9 L1045.3 315.8 L1046.3 314.7 L1047.3 313.5 L1048.3 312.3 L1049.3 311.0 L1050.3 309.6 L1051.3 308.2 L1052.3 306.8 L1053.3 305.3 L1054.3 303.8 L1055.3 302.2 L1056.3 300.6 L1057.3 298.9 L1058.3 297.2 L1059.3 295.4 L1060.3 293.7 L1061.3 291.8 L1062.3 290.0 L1063.3 288.1 L1064.3 286.2 L1065.3 284.2 L1066.3 282.2 L1067.3 280.2 L1068.3 278.2 L1069.3 276.1 L1070.3 274.1 L1071.3 272.0 L1072.3 269.9 L1073.3 267.8 L1074.3 265.7 L1075.3 263.6 L1076.3 261.5 L1077.3 259.5 L1078.3 257.4 L1079.3 255.4 L1080.3 253.3 L1081.3 251.3 L1082.3 249.4 L1083.3 247.5 L1084.3 245.6 L1085.3 243.7 L1086.3 241.9 L1087.3 240.2 L1088.3 238.5 L1089.3 236.9 L1090.3 235.4 L1091.3 233.9 L1092.3 232.4 L1093.3 231.1 L1094.3 229.8 L1095.3 228.6 L1096.3 227.4 L1097.3 226.3 L1098.3 225.3 L1099.3 224.4 L1100.3 223.5 L1101.3 222.7 L1102.3 222.0 L1103.3 221.4 L1104.3 220.8 L1105.3 220.3 L1106.3 219.9 L1107.3 219.5 L1108.3 219.2 L1109.3 219.1 L1110.3 218.9 L1111.3 218.9 L1112.3 218.9 L1113.3 219.1 L1114.3 219.2 L1115.3 219.5 L1116.3 219.8 L1117.3 220.2 L1118.3 220.7 L1119.3 221.2 L1120.3 221.8 L1121.3 222.5 L1122.3 223.2 L1123.3 223.9 L1124.3 224.7 L1125.3 225.6 L1126.3 226.5 L1127.3 227.4 L1128.3 228.4 L1129.3 229.5 L1130.3 230.5 L1131.3 231.6 L1132.3 232.7 L1133.3 233.9 L1134.3 235.1 L1135.3 236.3 L1136.3 237.5 L1137.3 238.8 L1138.3 240.1 L1139.3 241.3 L1140.3 242.6 L1141.3 244.0 L1142.3 245.3 L1143.3 246.6 L1144.3 247.9 L1145.3 249.3 L1146.3 250.6 L1147.3 251.9 L1148.3 253.3 L1149.3 254.6 L1150.3 255.9 L1151.3 257.2 L1152.3 258.4 L1153.3 259.7 L1154.3 260.9 L1155.3 262.2 L1156.3 263.4 L1157.3 264.5 L1158.3 265.7 L1159.3 266.8 L1160.3 267.8 L1161.3 268.9 L1162.3 269.9 L1163.3 270.8 L1164.3 271.7 L1165.3 272.6 L1166.3 273.4 L1167.3 274.2 L1168.3 274.9 L1169.3 275.6 L1170.3 276.3 L1171.3 276.9 L1172.3 277.5 L1173.3 278.0 L1174.3 278.5 L1175.3 278.9 L1176.3 279.3 L1177.3 279.7 L1178.3 280.0 L1179.3 280.3 L1180.3 280.5 L1181.3 280.7 L1182.3 280.9 L1183.3 281.0 L1184.3 281.1 L1185.3 281.2 L1186.3 281.2 L1187.3 281.2 L1188.3 281.2 L1189.3 281.1 L1190.3 281.0 L1191.3 280.9 L1192.3 280.7 L1193.3 280.5 L1194.3 280.3 L1195.3 280.1 L1196.3 279.8 L1197.3 279.5 L1198.3 279.2 L1199.3 278.8 L1200.3 278.4 L1201.3 278.0 L1202.3 277.6 L1203.3 277.1 L1204.3 276.6 L1205.3 276.1 L1206.3 275.6 L1207.3 275.0 L1208.3 274.5 L1209.3 273.9 L1210.3 273.3 L1211.3 272.6 L1212.3 272.0 L1213.3 271.3 L1214.3 270.6 L1215.3 269.9 L1216.3 269.2 L1217.3 268.4 L1218.3 267.7 L1219.3 266.9 L1220.3 266.1 L1221.3 265.3 L1222.3 264.5 L1223.3 263.7 L1224.3 262.8 L1225.3 262.0 L1226.3 261.1 L1227.3 260.3 L1228.3 259.4 L1229.3 258.6 L1230.3 257.7 L1231.3 256.9 L1232.3 256.0 L1233.3 255.2 L1234.3 254.3 L1235.3 253.5 L1236.3 252.7 L1237.3 251.9 L1238.3 251.1 L1239.3 250.3 L1240.3 249.5 L1241.3 248.8 L1242.3 248.0 L1243.3 247.3 L1244.3 246.6 L1245.3 246.0 L1246.3 245.3 L1247.3 244.7 L1248.3 244.1 L1249.3 243.6 L1250.3 243.0 L1251.3 242.5 L1252.3 242.1 L1253.3 241.6 L1254.3 241.2 L1255.3 240.9 L1256.3 240.6 L1257.3 240.3 L1258.3 240.1 L1259.3 239.9 L1260.3 239.7 L1261.3 239.6 L1262.3 239.6 L1263.3 239.6 L1264.3 239.6 L1265.3 239.7 L1266.3 239.9 L1267.3 240.1 L1268.3 240.4 L1269.3 240.7 L1270.3 241.1 L1271.3 241.6 L1272.3 242.1 L1273.3 242.7 L1274.3 243.3 L1275.3 244.0 L1276.3 244.7 L1277.3 245.4 L1278.3 246.2 L1279.3 247.0 L1280.3 247.9 L1281.3 248.8 L1282.3 249.6 L1283.3 250.6 L1284.3 251.5 L1285.3 252.4 L1286.3 253.3 L1287.3 254.3 L1288.3 255.2 L1289.3 256.1 L1290.3 257.0 L1291.3 257.9 L1292.3 258.8 L1293.3 259.7 L1294.3 260.5 L1295.3 261.3 L1296.3 262.1 L1297.3 262.8 L1298.3 263.5 L1299.3 264.2 L1300.3 264.8 L1301.3 265.5 L1302.3 266.0 L1303.3 266.6 L1304.3 267.1 L1305.3 267.6 L1306.3 268.1 L1307.3 268.5 L1308.3 268.9 L1309.3 269.3 L1310.3 269.7 L1311.3 270.0 L1312.3 270.3 L1313.3 270.5 L1314.3 270.8 L1315.3 271.0 L1316.3 271.2 L1317.3 271.3 L1318.3 271.5 L1319.3 271.6 L1320.3 271.7 L1321.3 271.7 L1322.3 271.7 L1323.3 271.7 L1324.3 271.7 L1325.3 271.7 L1326.3 271.6 L1327.3 271.5 L1328.3 271.4 L1329.3 271.2 L1330.3 271.0 L1331.3 270.8 L1332.3 270.6 L1333.3 270.3 L1334.3 270.1 L1335.3 269.8 L1336.3 269.4 L1337.3 269.1 L1338.3 268.7 L1339.3 268.3 L1340.3 267.8 L1341.3 267.4 L1342.3 266.9 L1343.3 266.4 L1344.3 265.9 L1345.3 265.3 L1346.3 264.7 L1347.3 264.1 L1348.3 263.5 L1349.3 262.8 L1350.3 262.1 L1351.3 261.4 L1352.3 260.6 L1353.3 259.9 L1354.3 259.1 L1355.3 258.3 L1356.3 257.4 L1357.3 256.6 L1358.3 255.7 L1359.3 254.7 L1360.3 253.8 L1361.3 252.8 L1362.3 251.8 L1363.3 250.8 L1364.3 249.8 L1365.3 248.7 L1366.3 247.6 L1367.3 246.5 L1368.3 245.5 L1369.3 244.4 L1370.3 243.3 L1371.3 242.3 L1372.3 241.2 L1373.3 240.2 L1374.3 239.2 L1375.3 238.2 L1376.3 237.3 L1377.3 236.4 L1378.3 235.6 L1379.3 234.8 L1380.3 234.0 L1381.3 233.3 L1382.3 232.7 L1383.3 232.1 L1384.3 231.6 L1385.3 231.2 L1386.3 230.9 L1387.3 230.6 L1388.3 230.4 L1389.3 230.3 L1390.3 230.3 L1391.3 230.4 L1392.3 230.5 L1393.3 230.7 L1394.3 231.0 L1395.3 231.3 L1396.3 231.7 L1397.3 232.2 L1398.3 232.8 L1399.3 233.4 L1400.3 234.1 L1401.3 234.9 L1402.3 235.8 L1403.3 236.7 L1404.3 237.7 L1405.3 238.7 L1406.3 239.8 L1407.3 241.0 L1408.3 242.3 L1409.3 243.6 L1410.3 244.9 L1411.3 246.4 L1412.3 247.8 L1413.3 249.4 L1414.3 251.0 L1415.3 252.7 L1416.3 254.4 L1417.3 256.2 L1418.3 258.0 L1419.3 259.9 L1420.3 261.9 L1421.3 263.9 L1422.3 266.0 L1423.3 268.1 L1424.3 270.2 L1425.3 272.5 L1426.3 274.7 L1427.3 277.0 L1428.3 279.4 L1429.3 281.7 L1430.3 284.2 L1431.3 286.6 L1432.3 289.0 L1433.3 291.5 L1434.3 294.0 L1435.3 296.5 L1436.3 299.0 L1437.3 301.5 L1438.3 304.0 L1439.3 306.5 L1440.3 309.0 L1441.3 311.5 L1442.3 314.0 L1443.3 316.4 L1444.3 318.8 L1445.3 321.2 L1446.3 323.6 L1447.3 325.9 L1448.3 328.2 L1449.3 330.4 L1450.3 332.6 L1451.3 334.7 L1452.3 336.8 L1453.3 338.8 L1454.3 340.7 L1455.3 342.6 L1456.3 344.4 L1457.3 346.1 L1458.3 347.8 L1459.3 349.4 L1460.3 350.9 L1461.3 352.4 L1462.3 353.8 L1463.3 355.1 L1464.3 356.3 L1465.3 357.5 L1466.3 358.6 L1467.3 359.7 L1468.3 360.6 L1469.3 361.6 L1470.3 362.4 L1471.3 363.2 L1472.3 363.9 L1473.3 364.5 L1474.3 365.1 L1475.3 365.6 L1476.3 366.1 L1477.3 366.5 L1478.3 366.8 L1479.3 367.0 L1480.3 367.2 L1481.3 367.3 L1482.3 367.4 L1483.3 367.4 L1484.3 367.3 L1485.3 367.2 L1486.3 367.0 L1487.3 366.7 L1488.3 366.4 L1489.3 366.0 L1490.3 365.5 L1491.3 365.0 L1492.3 364.4 L1493.3 363.8 L1494.3 363.1 L1495.3 362.3 L1496.3 361.5 L1497.3 360.6 L1498.3 359.7 L1499.3 358.7 L1500.3 357.6 L1501.3 356.5 L1502.3 355.3 L1503.3 354.0 L1504.3 352.7 L1505.3 351.3 L1506.3 349.9 L1507.3 348.4 L1508.3 346.8 L1509.3 345.2 L1510.3 343.6 L1511.3 341.8 L1512.3 340.0 L1513.3 338.2 L1514.3 336.3 L1515.3 334.3 L1516.3 332.3 L1517.3 330.2 L1518.3 328.1 L1519.3 325.9 L1520.3 323.6 L1521.3 321.3 L1522.3 319.0 L1523.3 316.5 L1524.3 314.1 L1525.3 311.5 L1526.3 308.9 L1527.3 306.3 L1528.3 303.6 L1529.3 300.8 L1530.3 298.0 L1531.3 295.2 L1532.3 292.3 L1533.3 289.4 L1534.3 286.5 L1535.3 283.5 L1536.3 280.6 L1537.3 277.6 L1538.3 274.7 L1539.3 271.7 L1540.3 268.8 L1541.3 265.9 L1542.3 263.0 L1543.3 260.2 L1544.3 257.4 L1545.3 254.6 L1546.3 251.9 L1547.3 249.3 L1548.3 246.7 L1549.3 244.1 L1550.3 241.7 L1551.3 239.3 L1552.3 237.1 L1553.3 234.9 L1554.3 232.8 L1555.3 230.8 L1556.3 228.9 L1557.3 227.2 L1558.3 225.5 L1559.3 224.0 L1560.3 222.5 L1561.3 221.2 L1562.3 219.9 L1563.3 218.8 L1564.3 217.7 L1565.3 216.7 L1566.3 215.9 L1567.3 215.1 L1568.3 214.4 L1569.3 213.9 L1570.3 213.4 L1571.3 212.9 L1572.3 212.6 L1573.3 212.4 L1574.3 212.2 L1575.3 212.1 L1576.3 212.1 L1577.3 212.2 L1578.3 212.3 L1579.3 212.6 L1580.3 212.9 L1581.3 213.2 L1582.3 213.7 L1583.3 214.2 L1584.3 214.7 L1585.3 215.4 L1586.3 216.1 L1587.3 216.8 L1588.3 217.7 L1589.3 218.5 L1590.3 219.5 L1591.3 220.5 L1592.3 221.5 L1593.3 222.6 L1594.3 223.8 L1595.3 225.0 L1596.3 226.2 L1597.3 227.5 L1598.3 228.9 L1599.3 230.3 L1600.3 231.7 L1601.3 233.2 L1602.3 234.7 L1603.3 236.2 L1604.3 237.8 L1605.3 239.4 L1606.3 241.1 L1607.3 242.7 L1608.3 244.4 L1609.3 246.2 L1610.3 247.9 L1611.3 249.7 L1612.3 251.4 L1613.3 253.2 L1614.3 255.0 L1615.3 256.7 L1616.3 258.5 L1617.3 260.2 L1618.3 261.9 L1619.3 263.6 L1620.3 265.3 L1621.3 266.9 L1622.3 268.5 L1623.3 270.0 L1624.3 271.5 L1625.3 272.9 L1626.3 274.3 L1627.3 275.6 L1628.3 276.8 L1629.3 278.0 L1630.3 279.1 L1631.3 280.1 L1632.3 281.1 L1633.3 281.9 L1634.3 282.6 L1635.3 283.3 L1636.1 283.7" stroke="#5B9BD5" stroke-width="8.0" stroke-dasharray="0.01 15.21" stroke-dashoffset="0"/>
<path d="M158.3 246.3 L159.3 246.3 L160.3 246.3 L161.3 246.3 L162.3 246.3 L163.3 246.3 L164.3 246.3 L165.3 246.3 L166.3 246.3 L167.3 246.3 L168.3 246.3 L169.3 246.3 L170.3 246.3 L171.3 246.3 L172.3 246.3 L173.3 246.3 L174.3 246.3 L175.3 246.3 L176.3 246.3 L177.3 246.3 L178.3 246.3 L179.3 246.3 L180.3 246.3 L181.3 246.3 L182.3 246.3 L183.3 246.3 L184.3 246.3 L185.3 246.3 L186.3 246.3 L187.3 246.3 L188.3 246.3 L189.3 246.3 L190.3 246.3 L191.3 246.3 L192.3 246.3 L193.3 246.3 L194.3 246.3 L195.3 246.3 L196.3 246.3 L197.3 246.3 L198.3 246.3 L199.3 246.3 L200.3 246.3 L201.3 246.3 L202.3 246.3 L203.3 246.3 L204.3 246.3 L205.3 246.3 L206.3 246.3 L207.3 246.3 L208.3 246.3 L209.3 246.3 L210.3 246.3 L211.3 246.3 L212.3 246.3 L213.3 246.3 L214.3 246.3 L215.3 246.3 L216.3 246.3 L217.3 246.3 L218.3 246.3 L219.3 246.3 L220.3 246.3 L221.3 246.3 L222.3 246.3 L223.3 246.3 L224.3 246.3 L225.3 246.3 L226.3 246.3 L227.3 246.3 L228.3 246.3 L229.3 246.3 L230.3 246.3 L231.3 246.3 L232.3 246.3 L233.3 246.2 L234.3 246.1 L235.3 246.0 L236.3 245.9 L237.3 245.7 L238.3 245.6 L239.3 245.4 L240.3 245.2 L241.3 245.0 L242.3 244.8 L243.3 244.5 L244.3 244.3 L245.3 244.1 L246.3 243.9 L247.3 243.6 L248.3 243.4 L249.3 243.2 L250.3 242.9 L251.3 242.6 L252.3 242.2 L253.3 241.9 L254.3 241.5 L255.3 241.1 L256.3 240.7 L257.3 240.4 L258.3 240.0 L259.3 239.7 L260.3 239.5 L261.3 239.3 L262.3 239.1 L263.3 239.0 L264.3 239.0 L265.3 239.1 L266.3 239.3 L267.3 239.5 L268.3 239.9 L269.3 240.3 L270.3 240.8 L271.3 241.3 L272.3 241.9 L273.3 242.5 L274.3 243.2 L275.3 243.9 L276.3 244.6 L277.3 245.3 L278.3 246.1 L279.3 246.9 L280.3 247.8 L281.3 248.8 L282.3 250.0 L283.3 251.2 L284.3 252.6 L285.3 254.0 L286.3 255.4 L287.3 256.9 L288.3 258.3 L289.3 259.9 L290.3 261.4 L291.3 263.1 L292.3 264.8 L293.3 266.6 L294.3 268.5 L295.3 270.4 L296.3 272.4 L297.3 274.5 L298.3 276.7 L299.3 279.1 L300.3 281.7 L301.3 284.4 L302.3 287.1 L303.3 289.8 L304.3 292.6 L305.3 295.3 L306.3 297.9 L307.3 300.5 L308.3 303.0 L309.3 305.5 L310.3 308.0 L311.3 310.5 L312.3 313.0 L313.3 315.6 L314.3 318.3 L315.3 321.0 L316.3 323.8 L317.3 326.7 L318.3 329.6 L319.3 332.4 L320.3 335.2 L321.3 338.0 L322.3 340.7 L323.3 343.4 L324.3 345.9 L325.3 348.4 L326.3 350.9 L327.3 353.4 L328.3 355.8 L329.3 358.3 L330.3 360.8 L331.3 363.4 L332.3 366.3 L333.3 369.2 L334.3 372.1 L335.3 374.9 L336.3 377.3 L337.3 379.4 L338.3 381.0 L339.3 382.1 L340.3 382.9 L341.3 383.7 L342.3 384.4 L343.3 385.1 L344.3 385.7 L345.3 386.3 L346.3 386.7 L347.3 387.1 L348.3 387.3 L349.3 387.5 L350.3 387.5 L351.3 387.4 L352.3 387.2 L353.3 386.9 L354.3 386.5 L355.3 386.0 L356.3 385.4 L357.3 384.8 L358.3 384.1 L359.3 383.3 L360.3 382.1 L361.3 380.2 L362.3 377.9 L363.3 375.3 L364.3 372.3 L365.3 369.2 L366.3 366.0 L367.3 362.8 L368.3 359.7 L369.3 356.6 L370.3 353.4 L371.3 350.0 L372.3 346.5 L373.3 342.8 L374.3 339.1 L375.3 335.2 L376.3 331.3 L377.3 327.3 L378.3 323.2 L379.3 318.9 L380.3 314.5 L381.3 310.0 L382.3 305.3 L383.3 300.6 L384.3 295.8 L385.3 290.9 L386.3 285.9 L387.3 280.9 L388.3 275.9 L389.3 270.6 L390.3 264.9 L391.3 259.2 L392.3 253.7 L393.3 248.7 L394.3 244.2 L395.3 240.2 L396.3 236.4 L397.3 232.6 L398.3 228.9 L399.3 224.9 L400.3 221.0 L401.3 217.1 L402.3 213.2 L403.3 209.1 L404.3 204.8 L405.3 200.1 L406.3 195.4 L407.3 190.7 L408.3 186.5 L409.3 182.7 L410.3 179.1 L411.3 175.7 L412.3 172.5 L413.3 169.5 L414.3 166.7 L415.3 164.2 L416.3 161.6 L417.3 158.9 L418.3 156.3 L419.3 153.7 L420.3 151.2 L421.3 148.9 L422.3 146.9 L423.3 145.3 L424.3 144.0 L425.3 143.2 L426.3 143.0 L427.3 143.1 L428.3 143.3 L429.3 143.7 L430.3 144.2 L431.3 144.8 L432.3 145.5 L433.3 146.3 L434.3 147.1 L435.3 147.9 L436.3 148.8 L437.3 149.9 L438.3 151.2 L439.3 152.8 L440.3 154.6 L441.3 156.5 L442.3 158.5 L443.3 160.7 L444.3 163.2 L445.3 166.0 L446.3 168.9 L447.3 172.0 L448.3 175.0 L449.3 178.1 L450.3 181.2 L451.3 184.5 L452.3 187.8 L453.3 191.3 L454.3 195.0 L455.3 198.7 L456.3 202.6 L457.3 206.5 L458.3 210.6 L459.3 214.8 L460.3 219.0 L461.3 223.3 L462.3 227.8 L463.3 232.3 L464.3 236.9 L465.3 241.4 L466.3 245.9 L467.3 250.3 L468.3 254.8 L469.3 259.2 L470.3 263.6 L471.3 268.0 L472.3 272.4 L473.3 276.8 L474.3 281.1 L475.3 285.4 L476.3 289.6 L477.3 293.8 L478.3 297.9 L479.3 301.9 L480.3 305.8 L481.3 309.7 L482.3 313.5 L483.3 317.2 L484.3 320.9 L485.3 324.4 L486.3 327.8 L487.3 331.2 L488.3 334.4 L489.3 337.5 L490.3 340.6 L491.3 343.5 L492.3 346.3 L493.3 349.0 L494.3 351.5 L495.3 353.9 L496.3 356.2 L497.3 358.4 L498.3 360.4 L499.3 362.3 L500.3 364.0 L501.3 365.6 L502.3 367.0 L503.3 368.3 L504.3 369.5 L505.3 370.4 L506.3 371.3 L507.3 372.0 L508.3 372.6 L509.3 373.1 L510.3 373.5 L511.3 373.8 L512.3 374.0 L513.3 374.1 L514.3 374.1 L515.3 374.1 L516.3 374.0 L517.3 373.8 L518.3 373.6 L519.3 373.3 L520.3 373.0 L521.3 372.6 L522.3 372.1 L523.3 371.6 L524.3 371.0 L525.3 370.3 L526.3 369.5 L527.3 368.6 L528.3 367.6 L529.3 366.6 L530.3 365.4 L531.3 364.1 L532.3 362.7 L533.3 361.2 L534.3 359.6 L535.3 357.8 L536.3 356.0 L537.3 354.0 L538.3 351.8 L539.3 349.5 L540.3 347.1 L541.3 344.5 L542.3 341.8 L543.3 338.9 L544.3 335.9 L545.3 332.8 L546.3 329.5 L547.3 326.2 L548.3 322.8 L549.3 319.4 L550.3 315.9 L551.3 312.3 L552.3 308.8 L553.3 305.2 L554.3 301.6 L555.3 298.0 L556.3 294.4 L557.3 290.8 L558.3 287.3 L559.3 283.8 L560.3 280.5 L561.3 277.1 L562.3 273.9 L563.3 270.8 L564.3 267.7 L565.3 264.7 L566.3 261.8 L567.3 259.0 L568.3 256.1 L569.3 253.3 L570.3 250.4 L571.3 247.6 L572.3 244.7 L573.3 241.8 L574.3 238.9 L575.3 235.8 L576.3 232.7 L577.3 229.5 L578.3 226.3 L579.3 223.0 L580.3 219.6 L581.3 216.3 L582.3 212.9 L583.3 209.6 L584.3 206.3 L585.3 203.1 L586.3 199.9 L587.3 196.9 L588.3 193.9 L589.3 191.1 L590.3 188.5 L591.3 186.0 L592.3 183.6 L593.3 181.5 L594.3 179.5 L595.3 177.6 L596.3 175.8 L597.3 174.2 L598.3 172.6 L599.3 171.2 L600.3 169.8 L601.3 168.5 L602.3 167.3 L603.3 166.1 L604.3 165.1 L605.3 164.1 L606.3 163.3 L607.3 162.5 L608.3 161.9 L609.3 161.3 L610.3 160.8 L611.3 160.5 L612.3 160.2 L613.3 160.0 L614.3 160.0 L615.3 160.0 L616.3 160.1 L617.3 160.4 L618.3 160.8 L619.3 161.2 L620.3 161.8 L621.3 162.5 L622.3 163.4 L623.3 164.3 L624.3 165.3 L625.3 166.5 L626.3 167.8 L627.3 169.2 L628.3 170.8 L629.3 172.4 L630.3 174.2 L631.3 176.1 L632.3 178.1 L633.3 180.3 L634.3 182.5 L635.3 184.8 L636.3 187.2 L637.3 189.7 L638.3 192.2 L639.3 194.8 L640.3 197.5 L641.3 200.3 L642.3 203.1 L643.3 206.0 L644.3 208.9 L645.3 211.9 L646.3 214.9 L647.3 217.9 L648.3 220.9 L649.3 224.0 L650.3 227.1 L651.3 230.2 L652.3 233.3 L653.3 236.5 L654.3 239.7 L655.3 242.9 L656.3 246.1 L657.3 249.4 L658.3 252.8 L659.3 256.1 L660.3 259.5 L661.3 263.0 L662.3 266.5 L663.3 270.0 L664.3 273.6 L665.3 277.3 L666.3 280.9 L667.3 284.6 L668.3 288.4 L669.3 292.1 L670.3 295.9 L671.3 299.7 L672.3 303.4 L673.3 307.2 L674.3 311.0 L675.3 314.8 L676.3 318.6 L677.3 322.4 L678.3 326.2 L679.3 329.9 L680.3 333.7 L681.3 337.4 L682.3 341.0 L683.3 344.7 L684.3 348.3 L685.3 351.8 L686.3 355.3 L687.3 358.8 L688.3 362.2 L689.3 365.5 L690.3 368.8 L691.3 372.0 L692.3 375.2 L693.3 378.3 L694.3 381.3 L695.3 384.3 L696.3 387.1 L697.3 389.9 L698.3 392.6 L699.3 395.2 L700.3 397.8 L701.3 400.2 L702.3 402.6 L703.3 404.8 L704.3 407.0 L705.3 409.0 L706.3 411.0 L707.3 412.8 L708.3 414.5 L709.3 416.1 L710.3 417.6 L711.3 419.0 L712.3 420.3 L713.3 421.4 L714.3 422.4 L715.3 423.2 L716.3 424.0 L717.3 424.6 L718.3 425.0 L719.3 425.3 L720.3 425.5 L721.3 425.5 L722.3 425.4 L723.3 425.1 L724.3 424.7 L725.3 424.1 L726.3 423.4 L727.3 422.5 L728.3 421.6 L729.3 420.5 L730.3 419.2 L731.3 417.9 L732.3 416.4 L733.3 414.8 L734.3 413.0 L735.3 411.2 L736.3 409.2 L737.3 407.2 L738.3 405.0 L739.3 402.8 L740.3 400.4 L741.3 397.9 L742.3 395.4 L743.3 392.7 L744.3 390.0 L745.3 387.1 L746.3 384.2 L747.3 381.2 L748.3 378.2 L749.3 375.0 L750.3 371.8 L751.3 368.5 L752.3 365.2 L753.3 361.8 L754.3 358.3 L755.3 354.8 L756.3 351.2 L757.3 347.5 L758.3 343.8 L759.3 340.1 L760.3 336.3 L761.3 332.5 L762.3 328.6 L763.3 324.7 L764.3 320.8 L765.3 316.8 L766.3 312.8 L767.3 308.8 L768.3 304.8 L769.3 300.8 L770.3 296.7 L771.3 292.6 L772.3 288.5 L773.3 284.4 L774.3 280.3 L775.3 276.2 L776.3 272.1 L777.3 268.0 L778.3 263.9 L779.3 259.8 L780.3 255.8 L781.3 251.7 L782.3 247.7 L783.3 243.7 L784.3 239.8 L785.3 235.9 L786.3 232.0 L787.3 228.2 L788.3 224.4 L789.3 220.7 L790.3 217.1 L791.3 213.5 L792.3 210.0 L793.3 206.6 L794.3 203.3 L795.3 200.0 L796.3 196.8 L797.3 193.8 L798.3 190.8 L799.3 187.9 L800.3 185.2 L801.3 182.6 L802.3 180.0 L803.3 177.6 L804.3 175.4 L805.3 173.2 L806.3 171.2 L807.3 169.4 L808.3 167.7 L809.3 166.1 L810.3 164.7 L811.3 163.5 L812.3 162.4 L813.3 161.4 L814.3 160.6 L815.3 159.9 L816.3 159.3 L817.3 158.8 L818.3 158.4 L819.3 158.0 L820.3 157.7 L821.3 157.5 L822.3 157.3 L823.3 157.1 L824.3 157.0 L825.3 156.9 L826.3 157.0 L827.3 157.2 L828.3 157.6 L829.3 158.1 L830.3 158.8 L831.3 159.7 L832.3 160.9 L833.3 162.2 L834.3 163.9 L835.3 165.7 L836.3 167.7 L837.3 169.9 L838.3 172.2 L839.3 174.8 L840.3 177.4 L841.3 180.2 L842.3 183.0 L843.3 186.0 L844.3 189.0 L845.3 192.0 L846.3 195.1 L847.3 198.1 L848.3 201.1 L849.3 204.1 L850.3 207.1 L851.3 210.0 L852.3 212.9 L853.3 215.7 L854.3 218.6 L855.3 221.5 L856.3 224.4 L857.3 227.3 L858.3 230.3 L859.3 233.2 L860.3 236.2 L861.3 239.3 L862.3 242.4 L863.3 245.6 L864.3 248.9 L865.3 252.2 L866.3 255.6 L867.3 259.1 L868.3 262.7 L869.3 266.5 L870.3 270.3 L871.3 274.1 L872.3 278.0 L873.3 282.0 L874.3 285.9 L875.3 289.8 L876.3 293.7 L877.3 297.6 L878.3 301.4 L879.3 305.1 L880.3 308.6 L881.3 312.1 L882.3 315.5 L883.3 318.7 L884.3 321.8 L885.3 324.7 L886.3 327.6 L887.3 330.3 L888.3 332.9 L889.3 335.4 L890.3 337.8 L891.3 340.0 L892.3 342.2 L893.3 344.2 L894.3 346.1 L895.3 347.9 L896.3 349.6 L897.3 351.2 L898.3 352.6 L899.3 354.0 L900.3 355.2 L901.3 356.3 L902.3 357.4 L903.3 358.3 L904.3 359.1 L905.3 359.8 L906.3 360.4 L907.3 360.9 L908.3 361.3 L909.3 361.6 L910.3 361.8 L911.3 361.9 L912.3 361.9 L913.3 361.8 L914.3 361.6 L915.3 361.3 L916.3 360.9 L917.3 360.4 L918.3 359.9 L919.3 359.2 L920.3 358.5 L921.3 357.6 L922.3 356.7 L923.3 355.7 L924.3 354.6 L925.3 353.4 L926.3 352.1 L927.3 350.7 L928.3 349.3 L929.3 347.7 L930.3 346.1 L931.3 344.4 L932.3 342.7 L933.3 340.8 L934.3 338.9 L935.3 336.9 L936.3 334.8 L937.3 332.6 L938.3 330.4 L939.3 328.1 L940.3 325.7 L941.3 323.2 L942.3 320.7 L943.3 318.1 L944.3 315.5 L945.3 312.8 L946.3 310.1 L947.3 307.3 L948.3 304.5 L949.3 301.7 L950.3 298.9 L951.3 296.1 L952.3 293.2 L953.3 290.4 L954.3 287.6 L955.3 284.8 L956.3 282.0 L957.3 279.2 L958.3 276.5 L959.3 273.8 L960.3 271.1 L961.3 268.5 L962.3 266.0 L963.3 263.5 L964.3 261.1 L965.3 258.8 L966.3 256.5 L967.3 254.4 L968.3 252.2 L969.3 250.2 L970.3 248.3 L971.3 246.4 L972.3 244.6 L973.3 242.8 L974.3 241.1 L975.3 239.5 L976.3 238.0 L977.3 236.6 L978.3 235.2 L979.3 233.9 L980.3 232.6 L981.3 231.4 L982.3 230.3 L983.3 229.3 L984.3 228.3 L985.3 227.4 L986.3 226.6 L987.3 225.8 L988.3 225.1 L989.3 224.5 L990.3 223.9 L991.3 223.4 L992.3 222.9 L993.3 222.6 L994.3 222.3 L995.3 222.1 L996.3 222.0 L997.3 222.0 L998.3 222.1 L999.3 222.4 L1000.3 222.7 L1001.3 223.2 L1002.3 223.8 L1003.3 224.5 L1004.3 225.4 L1005.3 226.4 L1006.3 227.5 L1007.3 228.8 L1008.3 230.3 L1009.3 232.0 L1010.3 233.8 L1011.3 235.8 L1012.3 237.9 L1013.3 240.2 L1014.3 242.6 L1015.3 245.2 L1016.3 247.8 L1017.3 250.4 L1018.3 253.1 L1019.3 255.8 L1020.3 258.6 L1021.3 261.3 L1022.3 264.0 L1023.3 266.7 L1024.3 269.5 L1025.3 272.2 L1026.3 274.8 L1027.3 277.5 L1028.3 280.1 L1029.3 282.7 L1030.3 285.3 L1031.3 287.8 L1032.3 290.3 L1033.3 292.7 L1034.3 295.1 L1035.3 297.4 L1036.3 299.7 L1037.3 301.9 L1038.3 304.0 L1039.3 306.1 L1040.3 308.0 L1041.3 309.9 L1042.3 311.8 L1043.3 313.5 L1044.3 315.2 L1045.3 316.8 L1046.3 318.3 L1047.3 319.7 L1048.3 321.1 L1049.3 322.3 L1050.3 323.5 L1051.3 324.6 L1052.3 325.6 L1053.3 326.4 L1054.3 327.2 L1055.3 327.9 L1056.3 328.5 L1057.3 329.0 L1058.3 329.4 L1059.3 329.7 L1060.3 329.9 L1061.3 330.0 L1062.3 329.9 L1063.3 329.8 L1064.3 329.5 L1065.3 329.1 L1066.3 328.6 L1067.3 328.0 L1068.3 327.3 L1069.3 326.5 L1070.3 325.6 L1071.3 324.6 L1072.3 323.5 L1073.3 322.3 L1074.3 321.0 L1075.3 319.6 L1076.3 318.2 L1077.3 316.6 L1078.3 314.9 L1079.3 313.2 L1080.3 311.4 L1081.3 309.5 L1082.3 307.5 L1083.3 305.4 L1084.3 303.3 L1085.3 301.1 L1086.3 298.8 L1087.3 296.5 L1088.3 294.1 L1089.3 291.6 L1090.3 289.0 L1091.3 286.5 L1092.3 283.8 L1093.3 281.1 L1094.3 278.4 L1095.3 275.6 L1096.3 272.8 L1097.3 270.0 L1098.3 267.2 L1099.3 264.3 L1100.3 261.4 L1101.3 258.6 L1102.3 255.7 L1103.3 252.8 L1104.3 250.0 L1105.3 247.1 L1106.3 244.3 L1107.3 241.5 L1108.3 238.8 L1109.3 236.1 L1110.3 233.4 L1111.3 230.8 L1112.3 228.2 L1113.3 225.7 L1114.3 223.2 L1115.3 220.8 L1116.3 218.5 L1117.3 216.3 L1118.3 214.1 L1119.3 212.0 L1120.3 210.0 L1121.3 208.1 L1122.3 206.3 L1123.3 204.5 L1124.3 202.9 L1125.3 201.3 L1126.3 199.8 L1127.3 198.5 L1128.3 197.2 L1129.3 196.0 L1130.3 195.0 L1131.3 194.0 L1132.3 193.2 L1133.3 192.5 L1134.3 191.9 L1135.3 191.4 L1136.3 191.0 L1137.3 190.8 L1138.3 190.7 L1139.3 190.7 L1140.3 190.8 L1141.3 191.0 L1142.3 191.3 L1143.3 191.8 L1144.3 192.3 L1145.3 193.0 L1146.3 193.8 L1147.3 194.6 L1148.3 195.6 L1149.3 196.6 L1150.3 197.7 L1151.3 199.0 L1152.3 200.3 L1153.3 201.7 L1154.3 203.1 L1155.3 204.7 L1156.3 206.3 L1157.3 208.0 L1158.3 209.8 L1159.3 211.6 L1160.3 213.5 L1161.3 215.5 L1162.3 217.5 L1163.3 219.5 L1164.3 221.6 L1165.3 223.8 L1166.3 226.0 L1167.3 228.2 L1168.3 230.5 L1169.3 232.8 L1170.3 235.1 L1171.3 237.4 L1172.3 239.8 L1173.3 242.2 L1174.3 244.6 L1175.3 247.0 L1176.3 249.4 L1177.3 251.8 L1178.3 254.2 L1179.3 256.7 L1180.3 259.1 L1181.3 261.5 L1182.3 263.8 L1183.3 266.2 L1184.3 268.6 L1185.3 270.9 L1186.3 273.2 L1187.3 275.5 L1188.3 277.7 L1189.3 279.9 L1190.3 282.1 L1191.3 284.2 L1192.3 286.3 L1193.3 288.3 L1194.3 290.3 L1195.3 292.2 L1196.3 294.1 L1197.3 295.9 L1198.3 297.7 L1199.3 299.4 L1200.3 301.0 L1201.3 302.5 L1202.3 304.0 L1203.3 305.4 L1204.3 306.7 L1205.3 307.9 L1206.3 309.0 L1207.3 310.1 L1208.3 311.0 L1209.3 311.9 L1210.3 312.6 L1211.3 313.2 L1212.3 313.8 L1213.3 314.2 L1214.3 314.5 L1215.3 314.7 L1216.3 314.8 L1217.3 314.7 L1218.3 314.5 L1219.3 314.3 L1220.3 313.9 L1221.3 313.3 L1222.3 312.7 L1223.3 312.0 L1224.3 311.1 L1225.3 310.2 L1226.3 309.1 L1227.3 307.9 L1228.3 306.7 L1229.3 305.3 L1230.3 303.9 L1231.3 302.3 L1232.3 300.7 L1233.3 299.0 L1234.3 297.2 L1235.3 295.3 L1236.3 293.3 L1237.3 291.2 L1238.3 289.1 L1239.3 286.9 L1240.3 284.6 L1241.3 282.3 L1242.3 280.0 L1243.3 277.7 L1244.3 275.4 L1245.3 273.3 L1246.3 271.1 L1247.3 269.1 L1248.3 267.1 L1249.3 265.2 L1250.3 263.2 L1251.3 261.3 L1252.3 259.4 L1253.3 257.5 L1254.3 255.5 L1255.3 253.6 L1256.3 251.5 L1257.3 249.4 L1258.3 247.3 L1259.3 245.1 L1260.3 242.9 L1261.3 240.6 L1262.3 238.4 L1263.3 236.2 L1264.3 234.0 L1265.3 231.9 L1266.3 229.8 L1267.3 227.9 L1268.3 226.1 L1269.3 224.4 L1270.3 222.8 L1271.3 221.4 L1272.3 220.0 L1273.3 218.8 L1274.3 217.7 L1275.3 216.6 L1276.3 215.7 L1277.3 214.9 L1278.3 214.2 L1279.3 213.6 L1280.3 213.1 L1281.3 212.7 L1282.3 212.4 L1283.3 212.2 L1284.3 212.1 L1285.3 212.1 L1286.3 212.1 L1287.3 212.3 L1288.3 212.5 L1289.3 212.8 L1290.3 213.3 L1291.3 213.7 L1292.3 214.3 L1293.3 215.0 L1294.3 215.7 L1295.3 216.5 L1296.3 217.3 L1297.3 218.3 L1298.3 219.3 L1299.3 220.4 L1300.3 221.5 L1301.3 222.7 L1302.3 224.0 L1303.3 225.3 L1304.3 226.7 L1305.3 228.2 L1306.3 229.7 L1307.3 231.2 L1308.3 232.9 L1309.3 234.5 L1310.3 236.2 L1311.3 238.0 L1312.3 239.8 L1313.3 241.6 L1314.3 243.5 L1315.3 245.5 L1316.3 247.4 L1317.3 249.4 L1318.3 251.4 L1319.3 253.4 L1320.3 255.5 L1321.3 257.5 L1322.3 259.5 L1323.3 261.6 L1324.3 263.6 L1325.3 265.5 L1326.3 267.5 L1327.3 269.4 L1328.3 271.3 L1329.3 273.2 L1330.3 274.9 L1331.3 276.7 L1332.3 278.4 L1333.3 280.0 L1334.3 281.5 L1335.3 283.0 L1336.3 284.3 L1337.3 285.6 L1338.3 286.8 L1339.3 287.9 L1340.3 288.9 L1341.3 289.9 L1342.3 290.7 L1343.3 291.5 L1344.3 292.2 L1345.3 292.8 L1346.3 293.3 L1347.3 293.8 L1348.3 294.2 L1349.3 294.5 L1350.3 294.7 L1351.3 294.8 L1352.3 294.9 L1353.3 294.8 L1354.3 294.7 L1355.3 294.6 L1356.3 294.3 L1357.3 294.0 L1358.3 293.6 L1359.3 293.2 L1360.3 292.6 L1361.3 292.0 L1362.3 291.4 L1363.3 290.6 L1364.3 289.8 L1365.3 289.0 L1366.3 288.0 L1367.3 287.0 L1368.3 286.0 L1369.3 284.8 L1370.3 283.6 L1371.3 282.4 L1372.3 281.1 L1373.3 279.7 L1374.3 278.3 L1375.3 276.8 L1376.3 275.3 L1377.3 273.7 L1378.3 272.1 L1379.3 270.5 L1380.3 268.8 L1381.3 267.2 L1382.3 265.5 L1383.3 263.8 L1384.3 262.1 L1385.3 260.4 L1386.3 258.7 L1387.3 257.0 L1388.3 255.4 L1389.3 253.7 L1390.3 252.1 L1391.3 250.5 L1392.3 249.0 L1393.3 247.5 L1394.3 246.0 L1395.3 244.6 L1396.3 243.3 L1397.3 242.0 L1398.3 240.8 L1399.3 239.7 L1400.3 238.6 L1401.3 237.6 L1402.3 236.7 L1403.3 235.9 L1404.3 235.1 L1405.3 234.4 L1406.3 233.8 L1407.3 233.3 L1408.3 232.9 L1409.3 232.6 L1410.3 232.4 L1411.3 232.3 L1412.3 232.3 L1413.3 232.4 L1414.3 232.5 L1415.3 232.8 L1416.3 233.2 L1417.3 233.7 L1418.3 234.3 L1419.3 235.0 L1420.3 235.8 L1421.3 236.7 L1422.3 237.7 L1423.3 238.8 L1424.3 240.0 L1425.3 241.2 L1426.3 242.6 L1427.3 244.0 L1428.3 245.5 L1429.3 247.0 L1430.3 248.7 L1431.3 250.4 L1432.3 252.2 L1433.3 254.0 L1434.3 255.9 L1435.3 257.9 L1436.3 260.0 L1437.3 262.1 L1438.3 264.2 L1439.3 266.4 L1440.3 268.7 L1441.3 271.0 L1442.3 273.3 L1443.3 275.7 L1444.3 278.2 L1445.3 280.6 L1446.3 283.1 L1447.3 285.6 L1448.3 288.2 L1449.3 290.7 L1450.3 293.3 L1451.3 295.8 L1452.3 298.4 L1453.3 301.0 L1454.3 303.6 L1455.3 306.1 L1456.3 308.7 L1457.3 311.2 L1458.3 313.7 L1459.3 316.2 L1460.3 318.7 L1461.3 321.1 L1462.3 323.4 L1463.3 325.7 L1464.3 327.9 L1465.3 330.0 L1466.3 332.1 L1467.3 334.0 L1468.3 335.9 L1469.3 337.6 L1470.3 339.2 L1471.3 340.7 L1472.3 342.2 L1473.3 343.5 L1474.3 344.7 L1475.3 345.8 L1476.3 346.9 L1477.3 347.8 L1478.3 348.6 L1479.3 349.4 L1480.3 350.0 L1481.3 350.6 L1482.3 351.1 L1483.3 351.5 L1484.3 351.7 L1485.3 351.9 L1486.3 352.1 L1487.3 352.1 L1488.3 352.0 L1489.3 351.9 L1490.3 351.7 L1491.3 351.4 L1492.3 351.0 L1493.3 350.5 L1494.3 350.0 L1495.3 349.3 L1496.3 348.6 L1497.3 347.8 L1498.3 346.9 L1499.3 346.0 L1500.3 344.9 L1501.3 343.7 L1502.3 342.5 L1503.3 341.2 L1504.3 339.7 L1505.3 338.2 L1506.3 336.6 L1507.3 334.9 L1508.3 333.1 L1509.3 331.3 L1510.3 329.3 L1511.3 327.2 L1512.3 325.1 L1513.3 322.8 L1514.3 320.5 L1515.3 318.0 L1516.3 315.5 L1517.3 312.8 L1518.3 310.1 L1519.3 307.3 L1520.3 304.4 L1521.3 301.3 L1522.3 298.3 L1523.3 295.1 L1524.3 291.9 L1525.3 288.7 L1526.3 285.4 L1527.3 282.1 L1528.3 278.9 L1529.3 275.6 L1530.3 272.4 L1531.3 269.3 L1532.3 266.1 L1533.3 263.1 L1534.3 260.1 L1535.3 257.3 L1536.3 254.5 L1537.3 251.8 L1538.3 249.2 L1539.3 246.7 L1540.3 244.3 L1541.3 242.0 L1542.3 239.8 L1543.3 237.6 L1544.3 235.6 L1545.3 233.6 L1546.3 231.7 L1547.3 229.9 L1548.3 228.2 L1549.3 226.5 L1550.3 225.0 L1551.3 223.5 L1552.3 222.1 L1553.3 220.8 L1554.3 219.5 L1555.3 218.3 L1556.3 217.2 L1557.3 216.2 L1558.3 215.2 L1559.3 214.3 L1560.3 213.5 L1561.3 212.7 L1562.3 212.0 L1563.3 211.4 L1564.3 210.8 L1565.3 210.4 L1566.3 210.0 L1567.3 209.8 L1568.3 209.6 L1569.3 209.6 L1570.3 209.7 L1571.3 209.9 L1572.3 210.3 L1573.3 210.8 L1574.3 211.5 L1575.3 212.3 L1576.3 213.3 L1577.3 214.4 L1578.3 215.6 L1579.3 216.9 L1580.3 218.4 L1581.3 219.9 L1582.3 221.5 L1583.3 223.1 L1584.3 224.8 L1585.3 226.6 L1586.3 228.4 L1587.3 230.3 L1588.3 232.1 L1589.3 234.0 L1590.3 235.9 L1591.3 237.8 L1592.3 239.8 L1593.3 241.7 L1594.3 243.7 L1595.3 245.7 L1596.3 247.7 L1597.3 249.6 L1598.3 251.6 L1599.3 253.6 L1600.3 255.6 L1601.3 257.6 L1602.3 259.5 L1603.3 261.5 L1604.3 263.4 L1605.3 265.3 L1606.3 267.2 L1607.3 269.1 L1608.3 271.0 L1609.3 272.8 L1610.3 274.6 L1611.3 276.4 L1612.3 278.2 L1613.3 280.0 L1614.3 281.7 L1615.3 283.4 L1616.3 285.2 L1617.3 286.9 L1618.3 288.6" stroke="#ED7D31" stroke-width="7.2" stroke-dasharray="19.73 26.04" stroke-dashoffset="0"/>
</g>
<path d="M187 67.6H297.3" stroke="#B1B1B1" stroke-width="7.2" stroke-dasharray="45.3 26.3"/>
<path d="M532.95 67.6H639.3" stroke="#5B9BD5" stroke-width="8.0" stroke-dasharray="0.01 15.17"/>
<path d="M865.2 67.6H976.4" stroke="#ED7D31" stroke-width="7.2" stroke-dasharray="19.7 26.0"/>
</g>
<g font-size="35">
<text x="313.5" y="77.8" textLength="180.3" lengthAdjust="spacingAndGlyphs">2 cross-arms</text>
<text x="659.2" y="77.8" textLength="167.2" lengthAdjust="spacingAndGlyphs">3 cross-arm</text>
<text x="991.8" y="77.8" textLength="166.4" lengthAdjust="spacingAndGlyphs">4 cross-arm</text>
</g>
<rect x="158.3" y="6.3" width="1477.8" height="480.1" fill="none" stroke="#000" stroke-width="3.2"/>
</svg>
</body></html>
